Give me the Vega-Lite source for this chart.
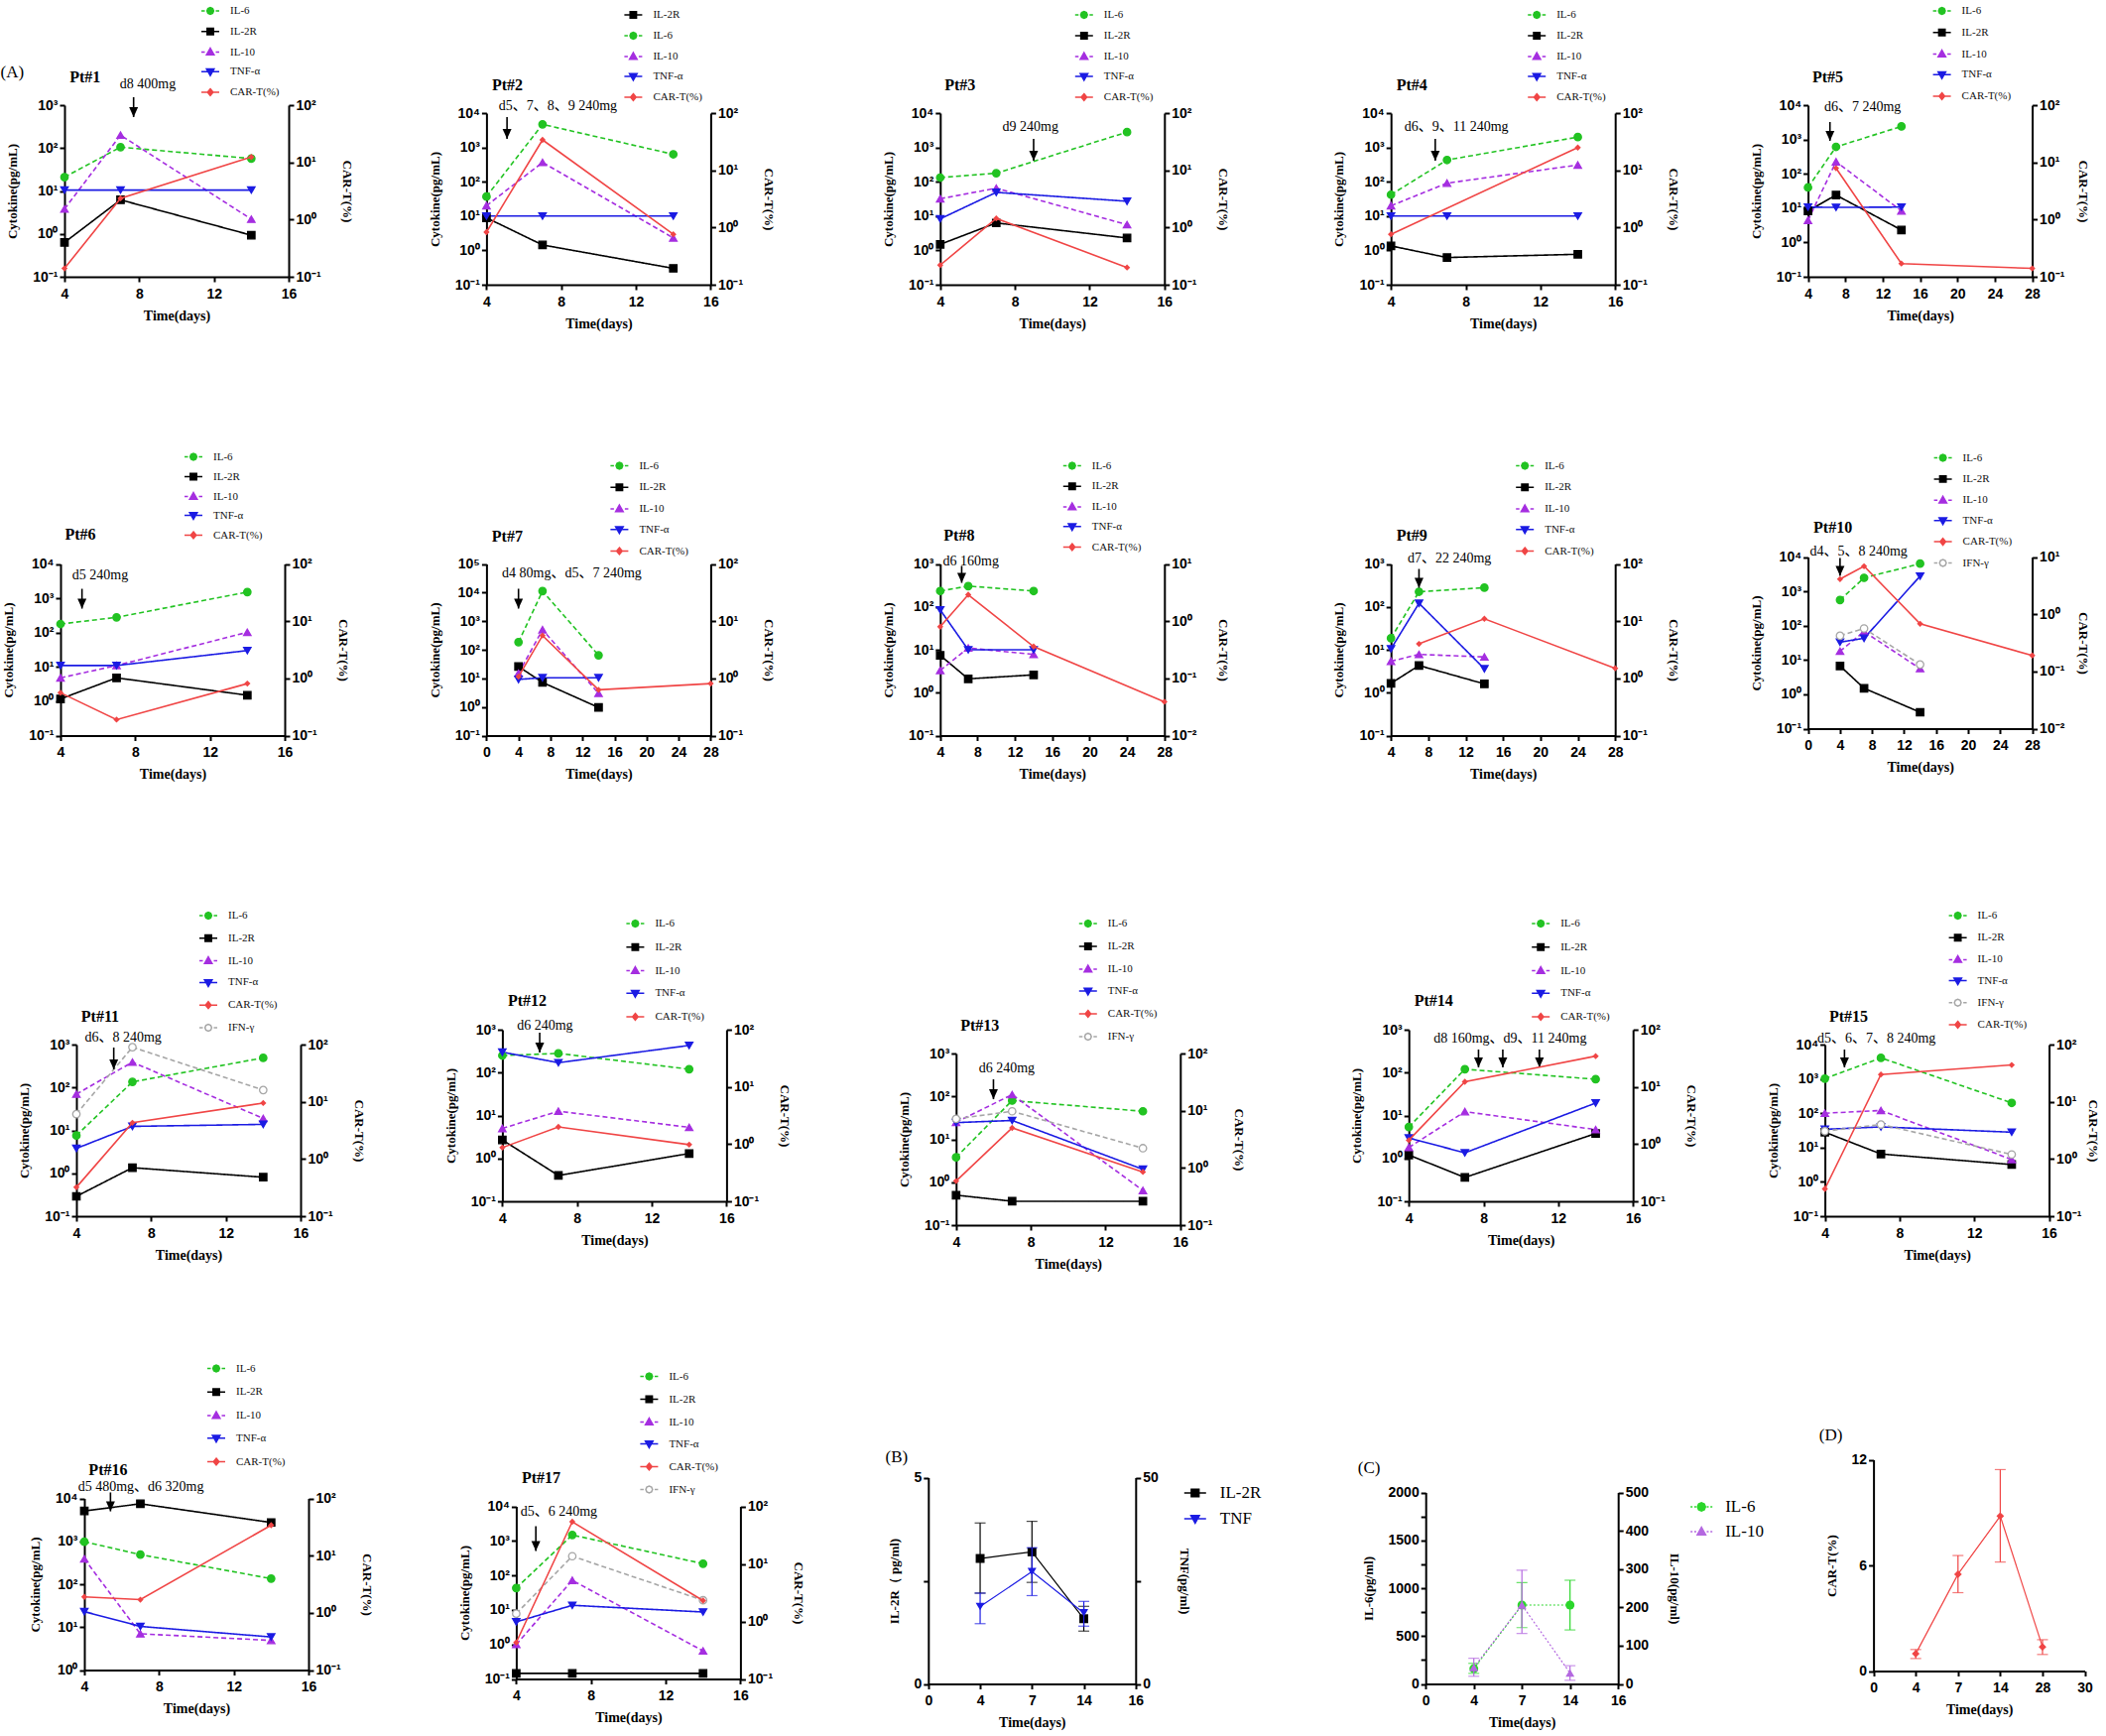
{
"$schema":"https://vega.github.io/schema/vega-lite/v6.json",
"background":"white",
"padding":0,
"columns":5,
"spacing":0,
"bounds":"flush",
"resolve":{"scale":{"color":"independent"},"legend":{"color":"independent"}},
"datasets":{
"pt":[
{"p":"1","s":"IL-6","d":4,"v":21},{"p":"1","s":"IL-6","d":7,"v":105},{"p":"1","s":"IL-6","d":14,"v":57},
{"p":"1","s":"IL-2R","d":4,"v":0.63},{"p":"1","s":"IL-2R","d":7,"v":6.2},{"p":"1","s":"IL-2R","d":14,"v":0.93},
{"p":"1","s":"IL-10","d":4,"v":3.8},{"p":"1","s":"IL-10","d":7,"v":200},{"p":"1","s":"IL-10","d":14,"v":2.2},
{"p":"1","s":"TNF-α","d":4,"v":10.5},{"p":"1","s":"TNF-α","d":7,"v":10.5},{"p":"1","s":"TNF-α","d":14,"v":10.5},
{"p":"1","s":"CAR-T(%)","d":4,"v":0.14},{"p":"1","s":"CAR-T(%)","d":7,"v":2.35},{"p":"1","s":"CAR-T(%)","d":14,"v":12.4},
{"p":"2","s":"IL-6","d":4,"v":37},{"p":"2","s":"IL-6","d":7,"v":4700},{"p":"2","s":"IL-6","d":14,"v":630},
{"p":"2","s":"IL-2R","d":4,"v":8.9},{"p":"2","s":"IL-2R","d":7,"v":1.44},{"p":"2","s":"IL-2R","d":14,"v":0.3},
{"p":"2","s":"IL-10","d":4,"v":20},{"p":"2","s":"IL-10","d":7,"v":365},{"p":"2","s":"IL-10","d":14,"v":2.3},
{"p":"2","s":"TNF-α","d":4,"v":10},{"p":"2","s":"TNF-α","d":7,"v":10},{"p":"2","s":"TNF-α","d":14,"v":10},
{"p":"2","s":"CAR-T(%)","d":4,"v":0.83},{"p":"2","s":"CAR-T(%)","d":7,"v":34},{"p":"2","s":"CAR-T(%)","d":14,"v":0.76},
{"p":"3","s":"IL-6","d":4,"v":132},{"p":"3","s":"IL-6","d":7,"v":177},{"p":"3","s":"IL-6","d":14,"v":2800},
{"p":"3","s":"IL-2R","d":4,"v":1.5},{"p":"3","s":"IL-2R","d":7,"v":6.3},{"p":"3","s":"IL-2R","d":14,"v":2.3},
{"p":"3","s":"IL-10","d":4,"v":32},{"p":"3","s":"IL-10","d":7,"v":65},{"p":"3","s":"IL-10","d":14,"v":5.6},
{"p":"3","s":"TNF-α","d":4,"v":8.3},{"p":"3","s":"TNF-α","d":7,"v":49},{"p":"3","s":"TNF-α","d":14,"v":27},
{"p":"3","s":"CAR-T(%)","d":4,"v":0.22},{"p":"3","s":"CAR-T(%)","d":7,"v":1.44},{"p":"3","s":"CAR-T(%)","d":14,"v":0.2},
{"p":"4","s":"IL-6","d":4,"v":42},{"p":"4","s":"IL-6","d":7,"v":430},{"p":"4","s":"IL-6","d":14,"v":2000},
{"p":"4","s":"IL-2R","d":4,"v":1.35},{"p":"4","s":"IL-2R","d":7,"v":0.62},{"p":"4","s":"IL-2R","d":14,"v":0.77},
{"p":"4","s":"IL-10","d":4,"v":20},{"p":"4","s":"IL-10","d":7,"v":91},{"p":"4","s":"IL-10","d":14,"v":307},
{"p":"4","s":"TNF-α","d":4,"v":10},{"p":"4","s":"TNF-α","d":7,"v":10},{"p":"4","s":"TNF-α","d":14,"v":10},
{"p":"4","s":"CAR-T(%)","d":4,"v":0.76},{"p":"4","s":"CAR-T(%)","d":14,"v":25},
{"p":"5","s":"IL-6","d":4,"v":40},{"p":"5","s":"IL-6","d":7,"v":610},{"p":"5","s":"IL-6","d":14,"v":2400},
{"p":"5","s":"IL-2R","d":4,"v":8.3},{"p":"5","s":"IL-2R","d":7,"v":24},{"p":"5","s":"IL-2R","d":14,"v":2.3},
{"p":"5","s":"IL-10","d":4,"v":4.4},{"p":"5","s":"IL-10","d":7,"v":225},{"p":"5","s":"IL-10","d":14,"v":8.3},
{"p":"5","s":"TNF-α","d":4,"v":10.7},{"p":"5","s":"TNF-α","d":7,"v":10.5},{"p":"5","s":"TNF-α","d":14,"v":10.7},
{"p":"5","s":"CAR-T(%)","d":7,"v":7.9},{"p":"5","s":"CAR-T(%)","d":14,"v":0.17},{"p":"5","s":"CAR-T(%)","d":28,"v":0.14},
{"p":"6","s":"IL-6","d":4,"v":178},{"p":"6","s":"IL-6","d":7,"v":278},{"p":"6","s":"IL-6","d":14,"v":1520},
{"p":"6","s":"IL-2R","d":4,"v":1.17},{"p":"6","s":"IL-2R","d":7,"v":4.8},{"p":"6","s":"IL-2R","d":14,"v":1.5},
{"p":"6","s":"IL-10","d":4,"v":4.8},{"p":"6","s":"IL-10","d":7,"v":11},{"p":"6","s":"IL-10","d":14,"v":102},
{"p":"6","s":"TNF-α","d":4,"v":11},{"p":"6","s":"TNF-α","d":7,"v":11},{"p":"6","s":"TNF-α","d":14,"v":30},
{"p":"6","s":"CAR-T(%)","d":4,"v":0.56},{"p":"6","s":"CAR-T(%)","d":7,"v":0.19},{"p":"6","s":"CAR-T(%)","d":14,"v":0.81},
{"p":"7","s":"IL-6","d":4,"v":185},{"p":"7","s":"IL-6","d":7,"v":11300},{"p":"7","s":"IL-6","d":14,"v":64},
{"p":"7","s":"IL-2R","d":4,"v":26},{"p":"7","s":"IL-2R","d":7,"v":7.2},{"p":"7","s":"IL-2R","d":14,"v":0.96},
{"p":"7","s":"IL-10","d":4,"v":15},{"p":"7","s":"IL-10","d":7,"v":500},{"p":"7","s":"IL-10","d":14,"v":3.0},
{"p":"7","s":"TNF-α","d":4,"v":9.2},{"p":"7","s":"TNF-α","d":7,"v":10.5},{"p":"7","s":"TNF-α","d":14,"v":10.5},
{"p":"7","s":"CAR-T(%)","d":4,"v":1.07},{"p":"7","s":"CAR-T(%)","d":7,"v":5.6},{"p":"7","s":"CAR-T(%)","d":14,"v":0.63},{"p":"7","s":"CAR-T(%)","d":28,"v":0.81},
{"p":"8","s":"IL-6","d":4,"v":234},{"p":"8","s":"IL-6","d":7,"v":305},{"p":"8","s":"IL-6","d":14,"v":234},
{"p":"8","s":"IL-2R","d":4,"v":7.4},{"p":"8","s":"IL-2R","d":7,"v":2.1},{"p":"8","s":"IL-2R","d":14,"v":2.6},
{"p":"8","s":"IL-10","d":4,"v":3.3},{"p":"8","s":"IL-10","d":7,"v":11},{"p":"8","s":"IL-10","d":14,"v":7.8},
{"p":"8","s":"TNF-α","d":4,"v":85},{"p":"8","s":"TNF-α","d":7,"v":10},{"p":"8","s":"TNF-α","d":14,"v":10},
{"p":"8","s":"CAR-T(%)","d":4,"v":0.8},{"p":"8","s":"CAR-T(%)","d":7,"v":2.9},{"p":"8","s":"CAR-T(%)","d":14,"v":0.36},{"p":"8","s":"CAR-T(%)","d":28,"v":0.039},
{"p":"9","s":"IL-6","d":4,"v":18.6},{"p":"9","s":"IL-6","d":7,"v":225},{"p":"9","s":"IL-6","d":14,"v":280},
{"p":"9","s":"IL-2R","d":4,"v":1.65},{"p":"9","s":"IL-2R","d":7,"v":4.3},{"p":"9","s":"IL-2R","d":14,"v":1.6},
{"p":"9","s":"IL-10","d":4,"v":5.4},{"p":"9","s":"IL-10","d":7,"v":7.8},{"p":"9","s":"IL-10","d":14,"v":6.8},
{"p":"9","s":"TNF-α","d":4,"v":10.5},{"p":"9","s":"TNF-α","d":7,"v":121},{"p":"9","s":"TNF-α","d":14,"v":3.6},
{"p":"9","s":"CAR-T(%)","d":7,"v":4.0},{"p":"9","s":"CAR-T(%)","d":14,"v":11},{"p":"9","s":"CAR-T(%)","d":28,"v":1.5},
{"p":"10","s":"IL-6","d":4,"v":560},{"p":"10","s":"IL-6","d":7,"v":2470},{"p":"10","s":"IL-6","d":14,"v":6400},
{"p":"10","s":"IL-2R","d":4,"v":6.7},{"p":"10","s":"IL-2R","d":7,"v":1.5},{"p":"10","s":"IL-2R","d":14,"v":0.3},
{"p":"10","s":"IL-10","d":4,"v":18},{"p":"10","s":"IL-10","d":7,"v":67},{"p":"10","s":"IL-10","d":14,"v":5.6},
{"p":"10","s":"TNF-α","d":4,"v":33},{"p":"10","s":"TNF-α","d":7,"v":43},{"p":"10","s":"TNF-α","d":14,"v":2770},
{"p":"10","s":"IFN-γ","d":4,"v":51},{"p":"10","s":"IFN-γ","d":7,"v":83},{"p":"10","s":"IFN-γ","d":14,"v":7.4},
{"p":"10","s":"CAR-T(%)","d":4,"v":4.1},{"p":"10","s":"CAR-T(%)","d":7,"v":6.9},{"p":"10","s":"CAR-T(%)","d":14,"v":0.68},{"p":"10","s":"CAR-T(%)","d":28,"v":0.19},
{"p":"11","s":"IL-6","d":4,"v":7.6},{"p":"11","s":"IL-6","d":7,"v":135},{"p":"11","s":"IL-6","d":14,"v":490},
{"p":"11","s":"IL-2R","d":4,"v":0.29},{"p":"11","s":"IL-2R","d":7,"v":1.35},{"p":"11","s":"IL-2R","d":14,"v":0.81},
{"p":"11","s":"IL-10","d":4,"v":70},{"p":"11","s":"IL-10","d":7,"v":390},{"p":"11","s":"IL-10","d":14,"v":19},
{"p":"11","s":"TNF-α","d":4,"v":3.8},{"p":"11","s":"TNF-α","d":7,"v":12.4},{"p":"11","s":"TNF-α","d":14,"v":13.8},
{"p":"11","s":"IFN-γ","d":4,"v":24},{"p":"11","s":"IFN-γ","d":7,"v":870},{"p":"11","s":"IFN-γ","d":14,"v":87},
{"p":"11","s":"CAR-T(%)","d":4,"v":0.32},{"p":"11","s":"CAR-T(%)","d":7,"v":4.3},{"p":"11","s":"CAR-T(%)","d":14,"v":9.5},
{"p":"12","s":"IL-6","d":4,"v":250},{"p":"12","s":"IL-6","d":7,"v":280},{"p":"12","s":"IL-6","d":14,"v":120},
{"p":"12","s":"IL-2R","d":4,"v":2.7},{"p":"12","s":"IL-2R","d":7,"v":0.4},{"p":"12","s":"IL-2R","d":14,"v":1.3},
{"p":"12","s":"IL-10","d":4,"v":5.0},{"p":"12","s":"IL-10","d":7,"v":12.6},{"p":"12","s":"IL-10","d":14,"v":5.3},
{"p":"12","s":"TNF-α","d":4,"v":300},{"p":"12","s":"TNF-α","d":7,"v":170},{"p":"12","s":"TNF-α","d":14,"v":430},
{"p":"12","s":"CAR-T(%)","d":4,"v":0.87},{"p":"12","s":"CAR-T(%)","d":7,"v":2.0},{"p":"12","s":"CAR-T(%)","d":14,"v":0.98},
{"p":"13","s":"IL-6","d":4,"v":3.8},{"p":"13","s":"IL-6","d":7,"v":80},{"p":"13","s":"IL-6","d":14,"v":45},
{"p":"13","s":"IL-2R","d":4,"v":0.5},{"p":"13","s":"IL-2R","d":7,"v":0.36},{"p":"13","s":"IL-2R","d":14,"v":0.36},
{"p":"13","s":"IL-10","d":4,"v":25},{"p":"13","s":"IL-10","d":7,"v":110},{"p":"13","s":"IL-10","d":14,"v":0.64},
{"p":"13","s":"TNF-α","d":4,"v":24.5},{"p":"13","s":"TNF-α","d":7,"v":27.5},{"p":"13","s":"TNF-α","d":14,"v":2.0},
{"p":"13","s":"IFN-γ","d":4,"v":30},{"p":"13","s":"IFN-γ","d":7,"v":45},{"p":"13","s":"IFN-γ","d":14,"v":6.2},
{"p":"13","s":"CAR-T(%)","d":4,"v":0.59},{"p":"13","s":"CAR-T(%)","d":7,"v":5.0},{"p":"13","s":"CAR-T(%)","d":14,"v":0.85},
{"p":"14","s":"IL-6","d":4,"v":5.4},{"p":"14","s":"IL-6","d":7,"v":120},{"p":"14","s":"IL-6","d":14,"v":70},
{"p":"14","s":"IL-2R","d":4,"v":1.2},{"p":"14","s":"IL-2R","d":7,"v":0.36},{"p":"14","s":"IL-2R","d":14,"v":3.8},
{"p":"14","s":"IL-10","d":4,"v":1.8},{"p":"14","s":"IL-10","d":7,"v":12.3},{"p":"14","s":"IL-10","d":14,"v":4.7},
{"p":"14","s":"TNF-α","d":4,"v":3.0},{"p":"14","s":"TNF-α","d":7,"v":1.35},{"p":"14","s":"TNF-α","d":14,"v":19.5},
{"p":"14","s":"CAR-T(%)","d":4,"v":1.17},{"p":"14","s":"CAR-T(%)","d":7,"v":12.3},{"p":"14","s":"CAR-T(%)","d":14,"v":34.5},
{"p":"15","s":"IL-6","d":4,"v":1020},{"p":"15","s":"IL-6","d":7,"v":4100},{"p":"15","s":"IL-6","d":14,"v":200},
{"p":"15","s":"IL-2R","d":4,"v":28},{"p":"15","s":"IL-2R","d":7,"v":6.5},{"p":"15","s":"IL-2R","d":14,"v":3.2},
{"p":"15","s":"IL-10","d":4,"v":100},{"p":"15","s":"IL-10","d":7,"v":120},{"p":"15","s":"IL-10","d":14,"v":4.5},
{"p":"15","s":"TNF-α","d":4,"v":34},{"p":"15","s":"TNF-α","d":7,"v":40},{"p":"15","s":"TNF-α","d":14,"v":28},
{"p":"15","s":"IFN-γ","d":4,"v":30},{"p":"15","s":"IFN-γ","d":7,"v":47},{"p":"15","s":"IFN-γ","d":14,"v":6.3},
{"p":"15","s":"CAR-T(%)","d":4,"v":0.3},{"p":"15","s":"CAR-T(%)","d":7,"v":30},{"p":"15","s":"CAR-T(%)","d":14,"v":44},
{"p":"16","s":"IL-6","d":4,"v":980},{"p":"16","s":"IL-6","d":7,"v":490},{"p":"16","s":"IL-6","d":14,"v":135},
{"p":"16","s":"IL-2R","d":4,"v":5100},{"p":"16","s":"IL-2R","d":7,"v":7500},{"p":"16","s":"IL-2R","d":14,"v":2750},
{"p":"16","s":"IL-10","d":4,"v":390},{"p":"16","s":"IL-10","d":7,"v":7.0},{"p":"16","s":"IL-10","d":14,"v":4.9},
{"p":"16","s":"TNF-α","d":4,"v":23},{"p":"16","s":"TNF-α","d":7,"v":10.4},{"p":"16","s":"TNF-α","d":14,"v":5.9},
{"p":"16","s":"CAR-T(%)","d":4,"v":1.9},{"p":"16","s":"CAR-T(%)","d":7,"v":1.7},{"p":"16","s":"CAR-T(%)","d":14,"v":34},
{"p":"17","s":"IL-6","d":4,"v":43},{"p":"17","s":"IL-6","d":7,"v":1480},{"p":"17","s":"IL-6","d":14,"v":218},
{"p":"17","s":"IL-2R","d":4,"v":0.145},{"p":"17","s":"IL-2R","d":7,"v":0.145},{"p":"17","s":"IL-2R","d":14,"v":0.145},
{"p":"17","s":"IL-10","d":4,"v":1.0},{"p":"17","s":"IL-10","d":7,"v":72},{"p":"17","s":"IL-10","d":14,"v":0.65},
{"p":"17","s":"TNF-α","d":4,"v":4.5},{"p":"17","s":"TNF-α","d":7,"v":13.6},{"p":"17","s":"TNF-α","d":14,"v":8.7},
{"p":"17","s":"IFN-γ","d":4,"v":7.8},{"p":"17","s":"IFN-γ","d":7,"v":360},{"p":"17","s":"IFN-γ","d":14,"v":19},
{"p":"17","s":"CAR-T(%)","d":4,"v":0.43},{"p":"17","s":"CAR-T(%)","d":7,"v":54},{"p":"17","s":"CAR-T(%)","d":14,"v":2.3}
],
"note":[
{"p":"1","k":"tag","d":1.2,"v":5800,"t":"(A)"},
{"p":"1","k":"title","d":5.1,"v":4450,"t":"Pt#1"},
{"p":"1","k":"dose","d":8.46,"v":3060,"t":"d8 400mg"},
{"p":"1","k":"arrow","d":7.7,"v":527,"v2":1531},
{"p":"2","k":"title","d":5.12,"v":64600,"t":"Pt#2"},
{"p":"2","k":"dose","d":7.82,"v":15900,"t":"d5、7、8、9 240mg"},
{"p":"2","k":"arrow","d":5.1,"v":1770,"v2":7660},
{"p":"3","k":"title","d":5.06,"v":64600,"t":"Pt#3"},
{"p":"3","k":"dose","d":8.83,"v":3940,"t":"d9 240mg"},
{"p":"3","k":"arrow","d":9.0,"v":410,"v2":1770},
{"p":"4","k":"title","d":5.12,"v":64600,"t":"Pt#4"},
{"p":"4","k":"dose","d":7.5,"v":3940,"t":"d6、9、11 240mg"},
{"p":"4","k":"arrow","d":6.37,"v":410,"v2":1770},
{"p":"5","k":"title","d":6.12,"v":64600,"t":"Pt#5"},
{"p":"5","k":"dose","d":9.84,"v":8760,"t":"d6、7 240mg"},
{"p":"5","k":"arrow","d":6.35,"v":910,"v2":3230},
{"p":"6","k":"title","d":5.06,"v":69000,"t":"Pt#6"},
{"p":"6","k":"dose","d":6.12,"v":4500,"t":"d5 240mg"},
{"p":"6","k":"arrow","d":5.15,"v":500,"v2":1890},
{"p":"7","k":"title","d":2.6,"v":935000,"t":"Pt#7"},
{"p":"7","k":"dose","d":10.66,"v":48700,"t":"d4 80mg、d5、7 240mg"},
{"p":"7","k":"arrow","d":4,"v":2750,"v2":13600},
{"p":"8","k":"title","d":6.02,"v":4660,"t":"Pt#8"},
{"p":"8","k":"dose","d":7.29,"v":1170,"t":"d6 160mg"},
{"p":"8","k":"arrow","d":6.3,"v":363,"v2":900},
{"p":"9","k":"title","d":6.23,"v":4660,"t":"Pt#9"},
{"p":"9","k":"dose","d":10.26,"v":1375,"t":"d7、22 240mg"},
{"p":"9","k":"arrow","d":7,"v":279,"v2":766},
{"p":"10","k":"title","d":3.1,"v":69000,"t":"Pt#10"},
{"p":"10","k":"dose","d":6.32,"v":14900,"t":"d4、5、8 240mg"},
{"p":"10","k":"arrow","d":4,"v":2830,"v2":9360},
{"p":"11","k":"title","d":5.27,"v":4440,"t":"Pt#11"},
{"p":"11","k":"dose","d":6.5,"v":1450,"t":"d6、8 240mg"},
{"p":"11","k":"arrow","d":6,"v":264,"v2":852},
{"p":"12","k":"title","d":5.33,"v":4660,"t":"Pt#12"},
{"p":"12","k":"dose","d":6.28,"v":1240,"t":"d6 240mg"},
{"p":"12","k":"arrow","d":6,"v":294,"v2":852},
{"p":"13","k":"title","d":5.27,"v":4440,"t":"Pt#13"},
{"p":"13","k":"dose","d":6.71,"v":450,"t":"d6 240mg"},
{"p":"13","k":"arrow","d":6,"v":86,"v2":250},
{"p":"14","k":"title","d":5.33,"v":4660,"t":"Pt#14"},
{"p":"14","k":"dose","d":9.42,"v":619,"t":"d8 160mg、d9、11 240mg"},
{"p":"14","k":"arrow","d":7.73,"v":132,"v2":345},
{"p":"14","k":"arrow","d":9.03,"v":132,"v2":345},
{"p":"14","k":"arrow","d":10.99,"v":132,"v2":345},
{"p":"15","k":"title","d":5.27,"v":64600,"t":"Pt#15"},
{"p":"15","k":"dose","d":6.76,"v":14900,"t":"d5、6、7、8 240mg"},
{"p":"15","k":"arrow","d":5.05,"v":2160,"v2":7170},
{"p":"16","k":"title","d":5.27,"v":46800,"t":"Pt#16"},
{"p":"16","k":"dose","d":7.03,"v":18900,"t":"d5 480mg、d6 320mg"},
{"p":"16","k":"arrow","d":5.4,"v":5000,"v2":13800},
{"p":"17","k":"title","d":5.33,"v":68100,"t":"Pt#17"},
{"p":"17","k":"dose","d":6.28,"v":7180,"t":"d5、6 240mg"},
{"p":"17","k":"arrow","d":5.05,"v":509,"v2":2660},
{"p":"B","k":"tag","d":"0","v":5.5,"t":"(B)"},
{"p":"C","k":"tag","d":"0","v":2249,"t":"(C)"},
{"p":"D","k":"tag","d":"0","v":13.4,"t":"(D)"}
],
"sum":[
{"p":"B","s":"IL-2R","d":"4","n":4,"v":3.04,"lo":2.2,"hi":3.9},
{"p":"B","s":"IL-2R","d":"7","n":7,"v":3.2,"lo":2.46,"hi":3.94},
{"p":"B","s":"IL-2R","d":"14","n":14,"v":1.58,"lo":1.28,"hi":1.88},
{"p":"B","s":"TNF","d":"4","n":4,"v":18.75,"lo":14.6,"hi":22},
{"p":"B","s":"TNF","d":"7","n":7,"v":27.2,"lo":21.4,"hi":33},
{"p":"B","s":"TNF","d":"14","n":14,"v":17.2,"lo":14,"hi":20},
{"p":"C","s":"IL-6","d":"4","n":4,"v":160,"lo":110,"hi":215},
{"p":"C","s":"IL-6","d":"7","n":7,"v":824,"lo":588,"hi":1059},
{"p":"C","s":"IL-6","d":"14","n":14,"v":824,"lo":564,"hi":1083},
{"p":"C","s":"IL-10","d":"4","n":4,"v":43,"lo":20,"hi":67},
{"p":"C","s":"IL-10","d":"7","n":7,"v":206,"lo":132,"hi":297},
{"p":"C","s":"IL-10","d":"14","n":14,"v":28.5,"lo":9.5,"hi":47.6},
{"p":"D","s":"CAR-T(%)","d":"4","n":4,"v":0.98,"lo":0.71,"hi":1.22},
{"p":"D","s":"CAR-T(%)","d":"7","n":7,"v":5.5,"lo":4.45,"hi":6.56},
{"p":"D","s":"CAR-T(%)","d":"14","n":14,"v":8.8,"lo":6.19,"hi":11.44},
{"p":"D","s":"CAR-T(%)","d":"28","n":28,"v":1.37,"lo":0.94,"hi":1.78}
]
},
"concat":[
{"width":424.6,"height":437.5,"data":{"name":"pt"},"transform":[{"filter":"datum.p==='1'"}],
"encoding":{"x":{"field":"d","type":"quantitative","title":"Time(days)","scale":{"domain":[4,16],"range":[64,290]},"axis":{"values":[4,8,12,16],"offset":-158.5}}},
"resolve":{"scale":{"y":"independent"}},
"layer":[
{"encoding":{"y":{"field":"v","type":"quantitative","title":"Cytokine(pg/mL)","scale":{"type":"log","domain":[0.1,1000],"range":[279,106]},"axis":{"values":[0.1,1,10,100,1000],"labelExpr":"'10'+['⁻²','⁻¹','⁰','¹','²','³','⁴','⁵'][round(log(datum.value)/LN10)+2]","offset":-64}}},
"layer":[
{"transform":[{"filter":"datum.s!=='CAR-T(%)'"}],"mark":{"type":"line","strokeWidth":1.6},"encoding":{"color":{"field":"s","type":"nominal","scale":{"domain":["IL-6","IL-2R","IL-10","TNF-α","CAR-T(%)"],"range":["#22c322","#000000","#a52ee0","#1b1be3","#f04545"]},"legend":{"orient":"none","legendX":200,"legendY":0,"title":null,"padding":0,"rowPadding":2.75,"symbolSize":400,"labelOffset":9,"labelFontSize":11,"encode":{"symbols":{"update":{"shape":{"signal":"datum.value==='IL-2R'?'M-0.9,0H0.9M-0.32,-0.32H0.32V0.32H-0.32Z':datum.value==='IL-10'?'M-0.9,0H-0.55M0.55,0H0.9M0,-0.4L0.38,0.27H-0.38Z':datum.value==='TNF-α'?'M-0.9,0H0.9M0,0.4L0.38,-0.27H-0.38Z':datum.value==='CAR-T(%)'?'M-0.9,0H0.9M0,-0.34L0.28,0L0,0.34L-0.28,0Z':'M-0.9,0H-0.55M0.55,0H0.9M0.34,0L0.24,0.24L0,0.34L-0.24,0.24L-0.34,0L-0.24,-0.24L0,-0.34L0.24,-0.24Z'"},"fill":{"signal":"datum.value==='IL-6'?'#22c322':datum.value==='IL-2R'?'#000000':datum.value==='IL-10'?'#a52ee0':datum.value==='TNF-α'?'#1b1be3':datum.value==='CAR-T(%)'?'#f04545':'#ffffff'"},"stroke":{"signal":"datum.value==='IL-6'?'#22c322':datum.value==='IL-2R'?'#000000':datum.value==='IL-10'?'#a52ee0':datum.value==='TNF-α'?'#1b1be3':datum.value==='CAR-T(%)'?'#f04545':'#a6a6a6'"},"strokeWidth":{"value":1.5},"size":{"value":400},"opacity":{"value":1}},"shape":{"value":{"expr":"datum.value==='IL-2R'?'M-0.9,0H0.9M-0.32,-0.32H0.32V0.32H-0.32Z':datum.value==='IL-10'?'M-0.9,0H-0.55M0.55,0H0.9M0,-0.4L0.38,0.27H-0.38Z':datum.value==='TNF-α'?'M-0.9,0H0.9M0,0.4L0.38,-0.27H-0.38Z':datum.value==='CAR-T(%)'?'M-0.9,0H0.9M0,-0.34L0.28,0L0,0.34L-0.28,0Z':'M-0.9,0H-0.55M0.55,0H0.9M0.34,0L0.24,0.24L0,0.34L-0.24,0.24L-0.34,0L-0.24,-0.24L0,-0.34L0.24,-0.24Z'"}},"fill":{"value":{"expr":"datum.value==='IL-6'?'#22c322':datum.value==='IL-2R'?'#000000':datum.value==='IL-10'?'#a52ee0':datum.value==='TNF-α'?'#1b1be3':datum.value==='CAR-T(%)'?'#f04545':'#ffffff'"}},"stroke":{"value":{"expr":"datum.value==='IL-6'?'#22c322':datum.value==='IL-2R'?'#000000':datum.value==='IL-10'?'#a52ee0':datum.value==='TNF-α'?'#1b1be3':datum.value==='CAR-T(%)'?'#f04545':'#a6a6a6'"}},"strokeWidth":{"value":1.5},"size":{"value":400},"opacity":{"value":1}}}}},"strokeDash":{"field":"s","type":"nominal","scale":{"domain":["IL-6","IL-2R","IL-10","TNF-α","CAR-T(%)","IFN-γ"],"range":[[5,3],[1,0],[5,3],[1,0],[1,0],[5,3]]},"legend":null}}},
{"transform":[{"filter":"datum.s!=='CAR-T(%)'"}],"mark":{"type":"point","filled":true,"size":55,"opacity":1,"strokeWidth":1.3},"encoding":{"shape":{"field":"s","type":"nominal","scale":{"domain":["IL-6","IL-2R","IL-10","TNF-α","CAR-T(%)","IFN-γ"],"range":["circle","square","triangle-up","triangle-down","diamond","circle"]},"legend":null},"fill":{"field":"s","type":"nominal","scale":{"domain":["IL-6","IL-2R","IL-10","TNF-α","CAR-T(%)","IFN-γ"],"range":["#22c322","#000000","#a52ee0","#1b1be3","#f04545","#ffffff"]},"legend":null},"stroke":{"field":"s","type":"nominal","scale":{"domain":["IL-6","IL-2R","IL-10","TNF-α","CAR-T(%)","IFN-γ"],"range":["#22c322","#000000","#a52ee0","#1b1be3","#f04545","#a6a6a6"]},"legend":null}}},
{"data":{"name":"note"},"transform":[{"filter":"datum.p==='1'&&datum.k==='tag'"}],"mark":{"type":"text","font":"Liberation Serif","fontSize":17,"baseline":"middle"},"encoding":{"text":{"field":"t","type":"nominal"}}},
{"data":{"name":"note"},"transform":[{"filter":"datum.p==='1'&&datum.k==='title'"}],"mark":{"type":"text","font":"Liberation Serif","fontWeight":"bold","fontSize":16,"baseline":"middle"},"encoding":{"text":{"field":"t","type":"nominal"}}},
{"data":{"name":"note"},"transform":[{"filter":"datum.p==='1'&&datum.k==='dose'"}],"mark":{"type":"text","font":"Liberation Serif, Noto Sans CJK SC","fontSize":14,"baseline":"middle"},"encoding":{"text":{"field":"t","type":"nominal"}}},
{"data":{"name":"note"},"transform":[{"filter":"datum.p==='1'&&datum.k==='arrow'"}],"mark":{"type":"rule","strokeWidth":1.6,"color":"#000"},"encoding":{"y2":{"field":"v2"}}},
{"data":{"name":"note"},"transform":[{"filter":"datum.p==='1'&&datum.k==='arrow'"}],"mark":{"type":"point","shape":"M-0.9,-2L0.9,-2L0,0Z","filled":true,"color":"#000","size":100,"opacity":1},"encoding":{}}
]},
{"transform":[{"filter":"datum.s==='CAR-T(%)'"}],"encoding":{"y":{"field":"v","type":"quantitative","title":"CAR-T(%)","scale":{"type":"log","domain":[0.1,100],"range":[279,106]},"axis":{"orient":"right","values":[0.1,1,10,100],"labelExpr":"'10'+['⁻²','⁻¹','⁰','¹','²','³','⁴','⁵'][round(log(datum.value)/LN10)+2]","offset":-134.6}}},
"layer":[{"mark":{"type":"line","strokeWidth":1.6,"color":"#f04545"},"encoding":{}},{"mark":{"type":"point","shape":"diamond","filled":true,"size":40,"opacity":1,"color":"#f04545"},"encoding":{}}]}
]},
{"width":424.6,"height":437.5,"data":{"name":"pt"},"transform":[{"filter":"datum.p==='2'"}],
"encoding":{"x":{"field":"d","type":"quantitative","title":"Time(days)","scale":{"domain":[4,16],"range":[64.4,290.4]},"axis":{"values":[4,8,12,16],"offset":-150.5}}},
"resolve":{"scale":{"y":"independent"}},
"layer":[
{"encoding":{"y":{"field":"v","type":"quantitative","title":"Cytokine(pg/mL)","scale":{"type":"log","domain":[0.1,10000],"range":[287,114]},"axis":{"values":[0.1,1,10,100,1000,10000],"labelExpr":"'10'+['⁻²','⁻¹','⁰','¹','²','³','⁴','⁵'][round(log(datum.value)/LN10)+2]","offset":-64.4}}},
"layer":[
{"transform":[{"filter":"datum.s!=='CAR-T(%)'"}],"mark":{"type":"line","strokeWidth":1.6},"encoding":{"color":{"field":"s","type":"nominal","scale":{"domain":["IL-2R","IL-6","IL-10","TNF-α","CAR-T(%)"],"range":["#000000","#22c322","#a52ee0","#1b1be3","#f04545"]},"legend":{"orient":"none","legendX":201.4,"legendY":4,"title":null,"padding":0,"rowPadding":3,"symbolSize":400,"labelOffset":9,"labelFontSize":11,"encode":{"symbols":{"update":{"shape":{"signal":"datum.value==='IL-2R'?'M-0.9,0H0.9M-0.32,-0.32H0.32V0.32H-0.32Z':datum.value==='IL-10'?'M-0.9,0H-0.55M0.55,0H0.9M0,-0.4L0.38,0.27H-0.38Z':datum.value==='TNF-α'?'M-0.9,0H0.9M0,0.4L0.38,-0.27H-0.38Z':datum.value==='CAR-T(%)'?'M-0.9,0H0.9M0,-0.34L0.28,0L0,0.34L-0.28,0Z':'M-0.9,0H-0.55M0.55,0H0.9M0.34,0L0.24,0.24L0,0.34L-0.24,0.24L-0.34,0L-0.24,-0.24L0,-0.34L0.24,-0.24Z'"},"fill":{"signal":"datum.value==='IL-6'?'#22c322':datum.value==='IL-2R'?'#000000':datum.value==='IL-10'?'#a52ee0':datum.value==='TNF-α'?'#1b1be3':datum.value==='CAR-T(%)'?'#f04545':'#ffffff'"},"stroke":{"signal":"datum.value==='IL-6'?'#22c322':datum.value==='IL-2R'?'#000000':datum.value==='IL-10'?'#a52ee0':datum.value==='TNF-α'?'#1b1be3':datum.value==='CAR-T(%)'?'#f04545':'#a6a6a6'"},"strokeWidth":{"value":1.5},"size":{"value":400},"opacity":{"value":1}},"shape":{"value":{"expr":"datum.value==='IL-2R'?'M-0.9,0H0.9M-0.32,-0.32H0.32V0.32H-0.32Z':datum.value==='IL-10'?'M-0.9,0H-0.55M0.55,0H0.9M0,-0.4L0.38,0.27H-0.38Z':datum.value==='TNF-α'?'M-0.9,0H0.9M0,0.4L0.38,-0.27H-0.38Z':datum.value==='CAR-T(%)'?'M-0.9,0H0.9M0,-0.34L0.28,0L0,0.34L-0.28,0Z':'M-0.9,0H-0.55M0.55,0H0.9M0.34,0L0.24,0.24L0,0.34L-0.24,0.24L-0.34,0L-0.24,-0.24L0,-0.34L0.24,-0.24Z'"}},"fill":{"value":{"expr":"datum.value==='IL-6'?'#22c322':datum.value==='IL-2R'?'#000000':datum.value==='IL-10'?'#a52ee0':datum.value==='TNF-α'?'#1b1be3':datum.value==='CAR-T(%)'?'#f04545':'#ffffff'"}},"stroke":{"value":{"expr":"datum.value==='IL-6'?'#22c322':datum.value==='IL-2R'?'#000000':datum.value==='IL-10'?'#a52ee0':datum.value==='TNF-α'?'#1b1be3':datum.value==='CAR-T(%)'?'#f04545':'#a6a6a6'"}},"strokeWidth":{"value":1.5},"size":{"value":400},"opacity":{"value":1}}}}},"strokeDash":{"field":"s","type":"nominal","scale":{"domain":["IL-6","IL-2R","IL-10","TNF-α","CAR-T(%)","IFN-γ"],"range":[[5,3],[1,0],[5,3],[1,0],[1,0],[5,3]]},"legend":null}}},
{"transform":[{"filter":"datum.s!=='CAR-T(%)'"}],"mark":{"type":"point","filled":true,"size":55,"opacity":1,"strokeWidth":1.3},"encoding":{"shape":{"field":"s","type":"nominal","scale":{"domain":["IL-6","IL-2R","IL-10","TNF-α","CAR-T(%)","IFN-γ"],"range":["circle","square","triangle-up","triangle-down","diamond","circle"]},"legend":null},"fill":{"field":"s","type":"nominal","scale":{"domain":["IL-6","IL-2R","IL-10","TNF-α","CAR-T(%)","IFN-γ"],"range":["#22c322","#000000","#a52ee0","#1b1be3","#f04545","#ffffff"]},"legend":null},"stroke":{"field":"s","type":"nominal","scale":{"domain":["IL-6","IL-2R","IL-10","TNF-α","CAR-T(%)","IFN-γ"],"range":["#22c322","#000000","#a52ee0","#1b1be3","#f04545","#a6a6a6"]},"legend":null}}},
{"data":{"name":"note"},"transform":[{"filter":"datum.p==='2'&&datum.k==='title'"}],"mark":{"type":"text","font":"Liberation Serif","fontWeight":"bold","fontSize":16,"baseline":"middle"},"encoding":{"text":{"field":"t","type":"nominal"}}},
{"data":{"name":"note"},"transform":[{"filter":"datum.p==='2'&&datum.k==='dose'"}],"mark":{"type":"text","font":"Liberation Serif, Noto Sans CJK SC","fontSize":14,"baseline":"middle"},"encoding":{"text":{"field":"t","type":"nominal"}}},
{"data":{"name":"note"},"transform":[{"filter":"datum.p==='2'&&datum.k==='arrow'"}],"mark":{"type":"rule","strokeWidth":1.6,"color":"#000"},"encoding":{"y2":{"field":"v2"}}},
{"data":{"name":"note"},"transform":[{"filter":"datum.p==='2'&&datum.k==='arrow'"}],"mark":{"type":"point","shape":"M-0.9,-2L0.9,-2L0,0Z","filled":true,"color":"#000","size":100,"opacity":1},"encoding":{}}
]},
{"transform":[{"filter":"datum.s==='CAR-T(%)'"}],"encoding":{"y":{"field":"v","type":"quantitative","title":"CAR-T(%)","scale":{"type":"log","domain":[0.1,100],"range":[287,114]},"axis":{"orient":"right","values":[0.1,1,10,100],"labelExpr":"'10'+['⁻²','⁻¹','⁰','¹','²','³','⁴','⁵'][round(log(datum.value)/LN10)+2]","offset":-134.2}}},
"layer":[{"mark":{"type":"line","strokeWidth":1.6,"color":"#f04545"},"encoding":{}},{"mark":{"type":"point","shape":"diamond","filled":true,"size":40,"opacity":1,"color":"#f04545"},"encoding":{}}]}
]},
{"width":424.6,"height":437.5,"data":{"name":"pt"},"transform":[{"filter":"datum.p==='3'"}],
"encoding":{"x":{"field":"d","type":"quantitative","title":"Time(days)","scale":{"domain":[4,16],"range":[96.8,322.8]},"axis":{"values":[4,8,12,16],"offset":-150.5}}},
"resolve":{"scale":{"y":"independent"}},
"layer":[
{"encoding":{"y":{"field":"v","type":"quantitative","title":"Cytokine(pg/mL)","scale":{"type":"log","domain":[0.1,10000],"range":[287,114]},"axis":{"values":[0.1,1,10,100,1000,10000],"labelExpr":"'10'+['⁻²','⁻¹','⁰','¹','²','³','⁴','⁵'][round(log(datum.value)/LN10)+2]","offset":-96.8}}},
"layer":[
{"transform":[{"filter":"datum.s!=='CAR-T(%)'"}],"mark":{"type":"line","strokeWidth":1.6},"encoding":{"color":{"field":"s","type":"nominal","scale":{"domain":["IL-6","IL-2R","IL-10","TNF-α","CAR-T(%)"],"range":["#22c322","#000000","#a52ee0","#1b1be3","#f04545"]},"legend":{"orient":"none","legendX":230.8,"legendY":4,"title":null,"padding":0,"rowPadding":3,"symbolSize":400,"labelOffset":9,"labelFontSize":11,"encode":{"symbols":{"update":{"shape":{"signal":"datum.value==='IL-2R'?'M-0.9,0H0.9M-0.32,-0.32H0.32V0.32H-0.32Z':datum.value==='IL-10'?'M-0.9,0H-0.55M0.55,0H0.9M0,-0.4L0.38,0.27H-0.38Z':datum.value==='TNF-α'?'M-0.9,0H0.9M0,0.4L0.38,-0.27H-0.38Z':datum.value==='CAR-T(%)'?'M-0.9,0H0.9M0,-0.34L0.28,0L0,0.34L-0.28,0Z':'M-0.9,0H-0.55M0.55,0H0.9M0.34,0L0.24,0.24L0,0.34L-0.24,0.24L-0.34,0L-0.24,-0.24L0,-0.34L0.24,-0.24Z'"},"fill":{"signal":"datum.value==='IL-6'?'#22c322':datum.value==='IL-2R'?'#000000':datum.value==='IL-10'?'#a52ee0':datum.value==='TNF-α'?'#1b1be3':datum.value==='CAR-T(%)'?'#f04545':'#ffffff'"},"stroke":{"signal":"datum.value==='IL-6'?'#22c322':datum.value==='IL-2R'?'#000000':datum.value==='IL-10'?'#a52ee0':datum.value==='TNF-α'?'#1b1be3':datum.value==='CAR-T(%)'?'#f04545':'#a6a6a6'"},"strokeWidth":{"value":1.5},"size":{"value":400},"opacity":{"value":1}},"shape":{"value":{"expr":"datum.value==='IL-2R'?'M-0.9,0H0.9M-0.32,-0.32H0.32V0.32H-0.32Z':datum.value==='IL-10'?'M-0.9,0H-0.55M0.55,0H0.9M0,-0.4L0.38,0.27H-0.38Z':datum.value==='TNF-α'?'M-0.9,0H0.9M0,0.4L0.38,-0.27H-0.38Z':datum.value==='CAR-T(%)'?'M-0.9,0H0.9M0,-0.34L0.28,0L0,0.34L-0.28,0Z':'M-0.9,0H-0.55M0.55,0H0.9M0.34,0L0.24,0.24L0,0.34L-0.24,0.24L-0.34,0L-0.24,-0.24L0,-0.34L0.24,-0.24Z'"}},"fill":{"value":{"expr":"datum.value==='IL-6'?'#22c322':datum.value==='IL-2R'?'#000000':datum.value==='IL-10'?'#a52ee0':datum.value==='TNF-α'?'#1b1be3':datum.value==='CAR-T(%)'?'#f04545':'#ffffff'"}},"stroke":{"value":{"expr":"datum.value==='IL-6'?'#22c322':datum.value==='IL-2R'?'#000000':datum.value==='IL-10'?'#a52ee0':datum.value==='TNF-α'?'#1b1be3':datum.value==='CAR-T(%)'?'#f04545':'#a6a6a6'"}},"strokeWidth":{"value":1.5},"size":{"value":400},"opacity":{"value":1}}}}},"strokeDash":{"field":"s","type":"nominal","scale":{"domain":["IL-6","IL-2R","IL-10","TNF-α","CAR-T(%)","IFN-γ"],"range":[[5,3],[1,0],[5,3],[1,0],[1,0],[5,3]]},"legend":null}}},
{"transform":[{"filter":"datum.s!=='CAR-T(%)'"}],"mark":{"type":"point","filled":true,"size":55,"opacity":1,"strokeWidth":1.3},"encoding":{"shape":{"field":"s","type":"nominal","scale":{"domain":["IL-6","IL-2R","IL-10","TNF-α","CAR-T(%)","IFN-γ"],"range":["circle","square","triangle-up","triangle-down","diamond","circle"]},"legend":null},"fill":{"field":"s","type":"nominal","scale":{"domain":["IL-6","IL-2R","IL-10","TNF-α","CAR-T(%)","IFN-γ"],"range":["#22c322","#000000","#a52ee0","#1b1be3","#f04545","#ffffff"]},"legend":null},"stroke":{"field":"s","type":"nominal","scale":{"domain":["IL-6","IL-2R","IL-10","TNF-α","CAR-T(%)","IFN-γ"],"range":["#22c322","#000000","#a52ee0","#1b1be3","#f04545","#a6a6a6"]},"legend":null}}},
{"data":{"name":"note"},"transform":[{"filter":"datum.p==='3'&&datum.k==='title'"}],"mark":{"type":"text","font":"Liberation Serif","fontWeight":"bold","fontSize":16,"baseline":"middle"},"encoding":{"text":{"field":"t","type":"nominal"}}},
{"data":{"name":"note"},"transform":[{"filter":"datum.p==='3'&&datum.k==='dose'"}],"mark":{"type":"text","font":"Liberation Serif, Noto Sans CJK SC","fontSize":14,"baseline":"middle"},"encoding":{"text":{"field":"t","type":"nominal"}}},
{"data":{"name":"note"},"transform":[{"filter":"datum.p==='3'&&datum.k==='arrow'"}],"mark":{"type":"rule","strokeWidth":1.6,"color":"#000"},"encoding":{"y2":{"field":"v2"}}},
{"data":{"name":"note"},"transform":[{"filter":"datum.p==='3'&&datum.k==='arrow'"}],"mark":{"type":"point","shape":"M-0.9,-2L0.9,-2L0,0Z","filled":true,"color":"#000","size":100,"opacity":1},"encoding":{}}
]},
{"transform":[{"filter":"datum.s==='CAR-T(%)'"}],"encoding":{"y":{"field":"v","type":"quantitative","title":"CAR-T(%)","scale":{"type":"log","domain":[0.1,100],"range":[287,114]},"axis":{"orient":"right","values":[0.1,1,10,100],"labelExpr":"'10'+['⁻²','⁻¹','⁰','¹','²','³','⁴','⁵'][round(log(datum.value)/LN10)+2]","offset":-101.8}}},
"layer":[{"mark":{"type":"line","strokeWidth":1.6,"color":"#f04545"},"encoding":{}},{"mark":{"type":"point","shape":"diamond","filled":true,"size":40,"opacity":1,"color":"#f04545"},"encoding":{}}]}
]},
{"width":424.6,"height":437.5,"data":{"name":"pt"},"transform":[{"filter":"datum.p==='4'"}],
"encoding":{"x":{"field":"d","type":"quantitative","title":"Time(days)","scale":{"domain":[4,16],"range":[126.2,352.2]},"axis":{"values":[4,8,12,16],"offset":-150.5}}},
"resolve":{"scale":{"y":"independent"}},
"layer":[
{"encoding":{"y":{"field":"v","type":"quantitative","title":"Cytokine(pg/mL)","scale":{"type":"log","domain":[0.1,10000],"range":[287,114]},"axis":{"values":[0.1,1,10,100,1000,10000],"labelExpr":"'10'+['⁻²','⁻¹','⁰','¹','²','³','⁴','⁵'][round(log(datum.value)/LN10)+2]","offset":-126.2}}},
"layer":[
{"transform":[{"filter":"datum.s!=='CAR-T(%)'"}],"mark":{"type":"line","strokeWidth":1.6},"encoding":{"color":{"field":"s","type":"nominal","scale":{"domain":["IL-6","IL-2R","IL-10","TNF-α","CAR-T(%)"],"range":["#22c322","#000000","#a52ee0","#1b1be3","#f04545"]},"legend":{"orient":"none","legendX":262.2,"legendY":4,"title":null,"padding":0,"rowPadding":3,"symbolSize":400,"labelOffset":9,"labelFontSize":11,"encode":{"symbols":{"update":{"shape":{"signal":"datum.value==='IL-2R'?'M-0.9,0H0.9M-0.32,-0.32H0.32V0.32H-0.32Z':datum.value==='IL-10'?'M-0.9,0H-0.55M0.55,0H0.9M0,-0.4L0.38,0.27H-0.38Z':datum.value==='TNF-α'?'M-0.9,0H0.9M0,0.4L0.38,-0.27H-0.38Z':datum.value==='CAR-T(%)'?'M-0.9,0H0.9M0,-0.34L0.28,0L0,0.34L-0.28,0Z':'M-0.9,0H-0.55M0.55,0H0.9M0.34,0L0.24,0.24L0,0.34L-0.24,0.24L-0.34,0L-0.24,-0.24L0,-0.34L0.24,-0.24Z'"},"fill":{"signal":"datum.value==='IL-6'?'#22c322':datum.value==='IL-2R'?'#000000':datum.value==='IL-10'?'#a52ee0':datum.value==='TNF-α'?'#1b1be3':datum.value==='CAR-T(%)'?'#f04545':'#ffffff'"},"stroke":{"signal":"datum.value==='IL-6'?'#22c322':datum.value==='IL-2R'?'#000000':datum.value==='IL-10'?'#a52ee0':datum.value==='TNF-α'?'#1b1be3':datum.value==='CAR-T(%)'?'#f04545':'#a6a6a6'"},"strokeWidth":{"value":1.5},"size":{"value":400},"opacity":{"value":1}},"shape":{"value":{"expr":"datum.value==='IL-2R'?'M-0.9,0H0.9M-0.32,-0.32H0.32V0.32H-0.32Z':datum.value==='IL-10'?'M-0.9,0H-0.55M0.55,0H0.9M0,-0.4L0.38,0.27H-0.38Z':datum.value==='TNF-α'?'M-0.9,0H0.9M0,0.4L0.38,-0.27H-0.38Z':datum.value==='CAR-T(%)'?'M-0.9,0H0.9M0,-0.34L0.28,0L0,0.34L-0.28,0Z':'M-0.9,0H-0.55M0.55,0H0.9M0.34,0L0.24,0.24L0,0.34L-0.24,0.24L-0.34,0L-0.24,-0.24L0,-0.34L0.24,-0.24Z'"}},"fill":{"value":{"expr":"datum.value==='IL-6'?'#22c322':datum.value==='IL-2R'?'#000000':datum.value==='IL-10'?'#a52ee0':datum.value==='TNF-α'?'#1b1be3':datum.value==='CAR-T(%)'?'#f04545':'#ffffff'"}},"stroke":{"value":{"expr":"datum.value==='IL-6'?'#22c322':datum.value==='IL-2R'?'#000000':datum.value==='IL-10'?'#a52ee0':datum.value==='TNF-α'?'#1b1be3':datum.value==='CAR-T(%)'?'#f04545':'#a6a6a6'"}},"strokeWidth":{"value":1.5},"size":{"value":400},"opacity":{"value":1}}}}},"strokeDash":{"field":"s","type":"nominal","scale":{"domain":["IL-6","IL-2R","IL-10","TNF-α","CAR-T(%)","IFN-γ"],"range":[[5,3],[1,0],[5,3],[1,0],[1,0],[5,3]]},"legend":null}}},
{"transform":[{"filter":"datum.s!=='CAR-T(%)'"}],"mark":{"type":"point","filled":true,"size":55,"opacity":1,"strokeWidth":1.3},"encoding":{"shape":{"field":"s","type":"nominal","scale":{"domain":["IL-6","IL-2R","IL-10","TNF-α","CAR-T(%)","IFN-γ"],"range":["circle","square","triangle-up","triangle-down","diamond","circle"]},"legend":null},"fill":{"field":"s","type":"nominal","scale":{"domain":["IL-6","IL-2R","IL-10","TNF-α","CAR-T(%)","IFN-γ"],"range":["#22c322","#000000","#a52ee0","#1b1be3","#f04545","#ffffff"]},"legend":null},"stroke":{"field":"s","type":"nominal","scale":{"domain":["IL-6","IL-2R","IL-10","TNF-α","CAR-T(%)","IFN-γ"],"range":["#22c322","#000000","#a52ee0","#1b1be3","#f04545","#a6a6a6"]},"legend":null}}},
{"data":{"name":"note"},"transform":[{"filter":"datum.p==='4'&&datum.k==='title'"}],"mark":{"type":"text","font":"Liberation Serif","fontWeight":"bold","fontSize":16,"baseline":"middle"},"encoding":{"text":{"field":"t","type":"nominal"}}},
{"data":{"name":"note"},"transform":[{"filter":"datum.p==='4'&&datum.k==='dose'"}],"mark":{"type":"text","font":"Liberation Serif, Noto Sans CJK SC","fontSize":14,"baseline":"middle"},"encoding":{"text":{"field":"t","type":"nominal"}}},
{"data":{"name":"note"},"transform":[{"filter":"datum.p==='4'&&datum.k==='arrow'"}],"mark":{"type":"rule","strokeWidth":1.6,"color":"#000"},"encoding":{"y2":{"field":"v2"}}},
{"data":{"name":"note"},"transform":[{"filter":"datum.p==='4'&&datum.k==='arrow'"}],"mark":{"type":"point","shape":"M-0.9,-2L0.9,-2L0,0Z","filled":true,"color":"#000","size":100,"opacity":1},"encoding":{}}
]},
{"transform":[{"filter":"datum.s==='CAR-T(%)'"}],"encoding":{"y":{"field":"v","type":"quantitative","title":"CAR-T(%)","scale":{"type":"log","domain":[0.1,100],"range":[287,114]},"axis":{"orient":"right","values":[0.1,1,10,100],"labelExpr":"'10'+['⁻²','⁻¹','⁰','¹','²','³','⁴','⁵'][round(log(datum.value)/LN10)+2]","offset":-72.4}}},
"layer":[{"mark":{"type":"line","strokeWidth":1.6,"color":"#f04545"},"encoding":{}},{"mark":{"type":"point","shape":"diamond","filled":true,"size":40,"opacity":1,"color":"#f04545"},"encoding":{}}]}
]},
{"width":424.6,"height":437.5,"data":{"name":"pt"},"transform":[{"filter":"datum.p==='5'"}],
"encoding":{"x":{"field":"d","type":"quantitative","title":"Time(days)","scale":{"domain":[4,28],"range":[121.6,347.6]},"axis":{"values":[4,8,12,16,20,24,28],"offset":-158.5}}},
"resolve":{"scale":{"y":"independent"}},
"layer":[
{"encoding":{"y":{"field":"v","type":"quantitative","title":"Cytokine(pg/mL)","scale":{"type":"log","domain":[0.1,10000],"range":[279,106]},"axis":{"values":[0.1,1,10,100,1000,10000],"labelExpr":"'10'+['⁻²','⁻¹','⁰','¹','²','³','⁴','⁵'][round(log(datum.value)/LN10)+2]","offset":-121.6}}},
"layer":[
{"transform":[{"filter":"datum.s!=='CAR-T(%)'"}],"mark":{"type":"line","strokeWidth":1.6},"encoding":{"color":{"field":"s","type":"nominal","scale":{"domain":["IL-6","IL-2R","IL-10","TNF-α","CAR-T(%)"],"range":["#22c322","#000000","#a52ee0","#1b1be3","#f04545"]},"legend":{"orient":"none","legendX":245.6,"legendY":0,"title":null,"padding":0,"rowPadding":3.75,"symbolSize":400,"labelOffset":9,"labelFontSize":11,"encode":{"symbols":{"update":{"shape":{"signal":"datum.value==='IL-2R'?'M-0.9,0H0.9M-0.32,-0.32H0.32V0.32H-0.32Z':datum.value==='IL-10'?'M-0.9,0H-0.55M0.55,0H0.9M0,-0.4L0.38,0.27H-0.38Z':datum.value==='TNF-α'?'M-0.9,0H0.9M0,0.4L0.38,-0.27H-0.38Z':datum.value==='CAR-T(%)'?'M-0.9,0H0.9M0,-0.34L0.28,0L0,0.34L-0.28,0Z':'M-0.9,0H-0.55M0.55,0H0.9M0.34,0L0.24,0.24L0,0.34L-0.24,0.24L-0.34,0L-0.24,-0.24L0,-0.34L0.24,-0.24Z'"},"fill":{"signal":"datum.value==='IL-6'?'#22c322':datum.value==='IL-2R'?'#000000':datum.value==='IL-10'?'#a52ee0':datum.value==='TNF-α'?'#1b1be3':datum.value==='CAR-T(%)'?'#f04545':'#ffffff'"},"stroke":{"signal":"datum.value==='IL-6'?'#22c322':datum.value==='IL-2R'?'#000000':datum.value==='IL-10'?'#a52ee0':datum.value==='TNF-α'?'#1b1be3':datum.value==='CAR-T(%)'?'#f04545':'#a6a6a6'"},"strokeWidth":{"value":1.5},"size":{"value":400},"opacity":{"value":1}},"shape":{"value":{"expr":"datum.value==='IL-2R'?'M-0.9,0H0.9M-0.32,-0.32H0.32V0.32H-0.32Z':datum.value==='IL-10'?'M-0.9,0H-0.55M0.55,0H0.9M0,-0.4L0.38,0.27H-0.38Z':datum.value==='TNF-α'?'M-0.9,0H0.9M0,0.4L0.38,-0.27H-0.38Z':datum.value==='CAR-T(%)'?'M-0.9,0H0.9M0,-0.34L0.28,0L0,0.34L-0.28,0Z':'M-0.9,0H-0.55M0.55,0H0.9M0.34,0L0.24,0.24L0,0.34L-0.24,0.24L-0.34,0L-0.24,-0.24L0,-0.34L0.24,-0.24Z'"}},"fill":{"value":{"expr":"datum.value==='IL-6'?'#22c322':datum.value==='IL-2R'?'#000000':datum.value==='IL-10'?'#a52ee0':datum.value==='TNF-α'?'#1b1be3':datum.value==='CAR-T(%)'?'#f04545':'#ffffff'"}},"stroke":{"value":{"expr":"datum.value==='IL-6'?'#22c322':datum.value==='IL-2R'?'#000000':datum.value==='IL-10'?'#a52ee0':datum.value==='TNF-α'?'#1b1be3':datum.value==='CAR-T(%)'?'#f04545':'#a6a6a6'"}},"strokeWidth":{"value":1.5},"size":{"value":400},"opacity":{"value":1}}}}},"strokeDash":{"field":"s","type":"nominal","scale":{"domain":["IL-6","IL-2R","IL-10","TNF-α","CAR-T(%)","IFN-γ"],"range":[[5,3],[1,0],[5,3],[1,0],[1,0],[5,3]]},"legend":null}}},
{"transform":[{"filter":"datum.s!=='CAR-T(%)'"}],"mark":{"type":"point","filled":true,"size":55,"opacity":1,"strokeWidth":1.3},"encoding":{"shape":{"field":"s","type":"nominal","scale":{"domain":["IL-6","IL-2R","IL-10","TNF-α","CAR-T(%)","IFN-γ"],"range":["circle","square","triangle-up","triangle-down","diamond","circle"]},"legend":null},"fill":{"field":"s","type":"nominal","scale":{"domain":["IL-6","IL-2R","IL-10","TNF-α","CAR-T(%)","IFN-γ"],"range":["#22c322","#000000","#a52ee0","#1b1be3","#f04545","#ffffff"]},"legend":null},"stroke":{"field":"s","type":"nominal","scale":{"domain":["IL-6","IL-2R","IL-10","TNF-α","CAR-T(%)","IFN-γ"],"range":["#22c322","#000000","#a52ee0","#1b1be3","#f04545","#a6a6a6"]},"legend":null}}},
{"data":{"name":"note"},"transform":[{"filter":"datum.p==='5'&&datum.k==='title'"}],"mark":{"type":"text","font":"Liberation Serif","fontWeight":"bold","fontSize":16,"baseline":"middle"},"encoding":{"text":{"field":"t","type":"nominal"}}},
{"data":{"name":"note"},"transform":[{"filter":"datum.p==='5'&&datum.k==='dose'"}],"mark":{"type":"text","font":"Liberation Serif, Noto Sans CJK SC","fontSize":14,"baseline":"middle"},"encoding":{"text":{"field":"t","type":"nominal"}}},
{"data":{"name":"note"},"transform":[{"filter":"datum.p==='5'&&datum.k==='arrow'"}],"mark":{"type":"rule","strokeWidth":1.6,"color":"#000"},"encoding":{"y2":{"field":"v2"}}},
{"data":{"name":"note"},"transform":[{"filter":"datum.p==='5'&&datum.k==='arrow'"}],"mark":{"type":"point","shape":"M-0.9,-2L0.9,-2L0,0Z","filled":true,"color":"#000","size":100,"opacity":1},"encoding":{}}
]},
{"transform":[{"filter":"datum.s==='CAR-T(%)'"}],"encoding":{"y":{"field":"v","type":"quantitative","title":"CAR-T(%)","scale":{"type":"log","domain":[0.1,100],"range":[279,106]},"axis":{"orient":"right","values":[0.1,1,10,100],"labelExpr":"'10'+['⁻²','⁻¹','⁰','¹','²','³','⁴','⁵'][round(log(datum.value)/LN10)+2]","offset":-77,"titlePadding":12}}},
"layer":[{"mark":{"type":"line","strokeWidth":1.6,"color":"#f04545"},"encoding":{}},{"mark":{"type":"point","shape":"diamond","filled":true,"size":40,"opacity":1,"color":"#f04545"},"encoding":{}}]}
]},
{"width":424.6,"height":437.5,"data":{"name":"pt"},"transform":[{"filter":"datum.p==='6'"}],
"encoding":{"x":{"field":"d","type":"quantitative","title":"Time(days)","scale":{"domain":[4,16],"range":[60,286]},"axis":{"values":[4,8,12,16],"offset":-134}}},
"resolve":{"scale":{"y":"independent"}},
"layer":[
{"encoding":{"y":{"field":"v","type":"quantitative","title":"Cytokine(pg/mL)","scale":{"type":"log","domain":[0.1,10000],"range":[303.5,130.5]},"axis":{"values":[0.1,1,10,100,1000,10000],"labelExpr":"'10'+['⁻²','⁻¹','⁰','¹','²','³','⁴','⁵'][round(log(datum.value)/LN10)+2]","offset":-60}}},
"layer":[
{"transform":[{"filter":"datum.s!=='CAR-T(%)'"}],"mark":{"type":"line","strokeWidth":1.6},"encoding":{"color":{"field":"s","type":"nominal","scale":{"domain":["IL-6","IL-2R","IL-10","TNF-α","CAR-T(%)"],"range":["#22c322","#000000","#a52ee0","#1b1be3","#f04545"]},"legend":{"orient":"none","legendX":183,"legendY":11.5,"title":null,"padding":0,"rowPadding":2,"symbolSize":400,"labelOffset":9,"labelFontSize":11,"encode":{"symbols":{"update":{"shape":{"signal":"datum.value==='IL-2R'?'M-0.9,0H0.9M-0.32,-0.32H0.32V0.32H-0.32Z':datum.value==='IL-10'?'M-0.9,0H-0.55M0.55,0H0.9M0,-0.4L0.38,0.27H-0.38Z':datum.value==='TNF-α'?'M-0.9,0H0.9M0,0.4L0.38,-0.27H-0.38Z':datum.value==='CAR-T(%)'?'M-0.9,0H0.9M0,-0.34L0.28,0L0,0.34L-0.28,0Z':'M-0.9,0H-0.55M0.55,0H0.9M0.34,0L0.24,0.24L0,0.34L-0.24,0.24L-0.34,0L-0.24,-0.24L0,-0.34L0.24,-0.24Z'"},"fill":{"signal":"datum.value==='IL-6'?'#22c322':datum.value==='IL-2R'?'#000000':datum.value==='IL-10'?'#a52ee0':datum.value==='TNF-α'?'#1b1be3':datum.value==='CAR-T(%)'?'#f04545':'#ffffff'"},"stroke":{"signal":"datum.value==='IL-6'?'#22c322':datum.value==='IL-2R'?'#000000':datum.value==='IL-10'?'#a52ee0':datum.value==='TNF-α'?'#1b1be3':datum.value==='CAR-T(%)'?'#f04545':'#a6a6a6'"},"strokeWidth":{"value":1.5},"size":{"value":400},"opacity":{"value":1}},"shape":{"value":{"expr":"datum.value==='IL-2R'?'M-0.9,0H0.9M-0.32,-0.32H0.32V0.32H-0.32Z':datum.value==='IL-10'?'M-0.9,0H-0.55M0.55,0H0.9M0,-0.4L0.38,0.27H-0.38Z':datum.value==='TNF-α'?'M-0.9,0H0.9M0,0.4L0.38,-0.27H-0.38Z':datum.value==='CAR-T(%)'?'M-0.9,0H0.9M0,-0.34L0.28,0L0,0.34L-0.28,0Z':'M-0.9,0H-0.55M0.55,0H0.9M0.34,0L0.24,0.24L0,0.34L-0.24,0.24L-0.34,0L-0.24,-0.24L0,-0.34L0.24,-0.24Z'"}},"fill":{"value":{"expr":"datum.value==='IL-6'?'#22c322':datum.value==='IL-2R'?'#000000':datum.value==='IL-10'?'#a52ee0':datum.value==='TNF-α'?'#1b1be3':datum.value==='CAR-T(%)'?'#f04545':'#ffffff'"}},"stroke":{"value":{"expr":"datum.value==='IL-6'?'#22c322':datum.value==='IL-2R'?'#000000':datum.value==='IL-10'?'#a52ee0':datum.value==='TNF-α'?'#1b1be3':datum.value==='CAR-T(%)'?'#f04545':'#a6a6a6'"}},"strokeWidth":{"value":1.5},"size":{"value":400},"opacity":{"value":1}}}}},"strokeDash":{"field":"s","type":"nominal","scale":{"domain":["IL-6","IL-2R","IL-10","TNF-α","CAR-T(%)","IFN-γ"],"range":[[5,3],[1,0],[5,3],[1,0],[1,0],[5,3]]},"legend":null}}},
{"transform":[{"filter":"datum.s!=='CAR-T(%)'"}],"mark":{"type":"point","filled":true,"size":55,"opacity":1,"strokeWidth":1.3},"encoding":{"shape":{"field":"s","type":"nominal","scale":{"domain":["IL-6","IL-2R","IL-10","TNF-α","CAR-T(%)","IFN-γ"],"range":["circle","square","triangle-up","triangle-down","diamond","circle"]},"legend":null},"fill":{"field":"s","type":"nominal","scale":{"domain":["IL-6","IL-2R","IL-10","TNF-α","CAR-T(%)","IFN-γ"],"range":["#22c322","#000000","#a52ee0","#1b1be3","#f04545","#ffffff"]},"legend":null},"stroke":{"field":"s","type":"nominal","scale":{"domain":["IL-6","IL-2R","IL-10","TNF-α","CAR-T(%)","IFN-γ"],"range":["#22c322","#000000","#a52ee0","#1b1be3","#f04545","#a6a6a6"]},"legend":null}}},
{"data":{"name":"note"},"transform":[{"filter":"datum.p==='6'&&datum.k==='title'"}],"mark":{"type":"text","font":"Liberation Serif","fontWeight":"bold","fontSize":16,"baseline":"middle"},"encoding":{"text":{"field":"t","type":"nominal"}}},
{"data":{"name":"note"},"transform":[{"filter":"datum.p==='6'&&datum.k==='dose'"}],"mark":{"type":"text","font":"Liberation Serif, Noto Sans CJK SC","fontSize":14,"baseline":"middle"},"encoding":{"text":{"field":"t","type":"nominal"}}},
{"data":{"name":"note"},"transform":[{"filter":"datum.p==='6'&&datum.k==='arrow'"}],"mark":{"type":"rule","strokeWidth":1.6,"color":"#000"},"encoding":{"y2":{"field":"v2"}}},
{"data":{"name":"note"},"transform":[{"filter":"datum.p==='6'&&datum.k==='arrow'"}],"mark":{"type":"point","shape":"M-0.9,-2L0.9,-2L0,0Z","filled":true,"color":"#000","size":100,"opacity":1},"encoding":{}}
]},
{"transform":[{"filter":"datum.s==='CAR-T(%)'"}],"encoding":{"y":{"field":"v","type":"quantitative","title":"CAR-T(%)","scale":{"type":"log","domain":[0.1,100],"range":[303.5,130.5]},"axis":{"orient":"right","values":[0.1,1,10,100],"labelExpr":"'10'+['⁻²','⁻¹','⁰','¹','²','³','⁴','⁵'][round(log(datum.value)/LN10)+2]","offset":-138.6}}},
"layer":[{"mark":{"type":"line","strokeWidth":1.6,"color":"#f04545"},"encoding":{}},{"mark":{"type":"point","shape":"diamond","filled":true,"size":40,"opacity":1,"color":"#f04545"},"encoding":{}}]}
]},
{"width":424.6,"height":437.5,"data":{"name":"pt"},"transform":[{"filter":"datum.p==='7'"}],
"encoding":{"x":{"field":"d","type":"quantitative","title":"Time(days)","scale":{"domain":[0,28],"range":[64.4,290.4]},"axis":{"values":[0,4,8,12,16,20,24,28],"offset":-134}}},
"resolve":{"scale":{"y":"independent"}},
"layer":[
{"encoding":{"y":{"field":"v","type":"quantitative","title":"Cytokine(pg/mL)","scale":{"type":"log","domain":[0.1,100000],"range":[303.5,130.5]},"axis":{"values":[0.1,1,10,100,1000,10000,100000],"labelExpr":"'10'+['⁻²','⁻¹','⁰','¹','²','³','⁴','⁵'][round(log(datum.value)/LN10)+2]","offset":-64.4}}},
"layer":[
{"transform":[{"filter":"datum.s!=='CAR-T(%)'"}],"mark":{"type":"line","strokeWidth":1.6},"encoding":{"color":{"field":"s","type":"nominal","scale":{"domain":["IL-6","IL-2R","IL-10","TNF-α","CAR-T(%)"],"range":["#22c322","#000000","#a52ee0","#1b1be3","#f04545"]},"legend":{"orient":"none","legendX":187.4,"legendY":20.5,"title":null,"padding":0,"rowPadding":3.75,"symbolSize":400,"labelOffset":9,"labelFontSize":11,"encode":{"symbols":{"update":{"shape":{"signal":"datum.value==='IL-2R'?'M-0.9,0H0.9M-0.32,-0.32H0.32V0.32H-0.32Z':datum.value==='IL-10'?'M-0.9,0H-0.55M0.55,0H0.9M0,-0.4L0.38,0.27H-0.38Z':datum.value==='TNF-α'?'M-0.9,0H0.9M0,0.4L0.38,-0.27H-0.38Z':datum.value==='CAR-T(%)'?'M-0.9,0H0.9M0,-0.34L0.28,0L0,0.34L-0.28,0Z':'M-0.9,0H-0.55M0.55,0H0.9M0.34,0L0.24,0.24L0,0.34L-0.24,0.24L-0.34,0L-0.24,-0.24L0,-0.34L0.24,-0.24Z'"},"fill":{"signal":"datum.value==='IL-6'?'#22c322':datum.value==='IL-2R'?'#000000':datum.value==='IL-10'?'#a52ee0':datum.value==='TNF-α'?'#1b1be3':datum.value==='CAR-T(%)'?'#f04545':'#ffffff'"},"stroke":{"signal":"datum.value==='IL-6'?'#22c322':datum.value==='IL-2R'?'#000000':datum.value==='IL-10'?'#a52ee0':datum.value==='TNF-α'?'#1b1be3':datum.value==='CAR-T(%)'?'#f04545':'#a6a6a6'"},"strokeWidth":{"value":1.5},"size":{"value":400},"opacity":{"value":1}},"shape":{"value":{"expr":"datum.value==='IL-2R'?'M-0.9,0H0.9M-0.32,-0.32H0.32V0.32H-0.32Z':datum.value==='IL-10'?'M-0.9,0H-0.55M0.55,0H0.9M0,-0.4L0.38,0.27H-0.38Z':datum.value==='TNF-α'?'M-0.9,0H0.9M0,0.4L0.38,-0.27H-0.38Z':datum.value==='CAR-T(%)'?'M-0.9,0H0.9M0,-0.34L0.28,0L0,0.34L-0.28,0Z':'M-0.9,0H-0.55M0.55,0H0.9M0.34,0L0.24,0.24L0,0.34L-0.24,0.24L-0.34,0L-0.24,-0.24L0,-0.34L0.24,-0.24Z'"}},"fill":{"value":{"expr":"datum.value==='IL-6'?'#22c322':datum.value==='IL-2R'?'#000000':datum.value==='IL-10'?'#a52ee0':datum.value==='TNF-α'?'#1b1be3':datum.value==='CAR-T(%)'?'#f04545':'#ffffff'"}},"stroke":{"value":{"expr":"datum.value==='IL-6'?'#22c322':datum.value==='IL-2R'?'#000000':datum.value==='IL-10'?'#a52ee0':datum.value==='TNF-α'?'#1b1be3':datum.value==='CAR-T(%)'?'#f04545':'#a6a6a6'"}},"strokeWidth":{"value":1.5},"size":{"value":400},"opacity":{"value":1}}}}},"strokeDash":{"field":"s","type":"nominal","scale":{"domain":["IL-6","IL-2R","IL-10","TNF-α","CAR-T(%)","IFN-γ"],"range":[[5,3],[1,0],[5,3],[1,0],[1,0],[5,3]]},"legend":null}}},
{"transform":[{"filter":"datum.s!=='CAR-T(%)'"}],"mark":{"type":"point","filled":true,"size":55,"opacity":1,"strokeWidth":1.3},"encoding":{"shape":{"field":"s","type":"nominal","scale":{"domain":["IL-6","IL-2R","IL-10","TNF-α","CAR-T(%)","IFN-γ"],"range":["circle","square","triangle-up","triangle-down","diamond","circle"]},"legend":null},"fill":{"field":"s","type":"nominal","scale":{"domain":["IL-6","IL-2R","IL-10","TNF-α","CAR-T(%)","IFN-γ"],"range":["#22c322","#000000","#a52ee0","#1b1be3","#f04545","#ffffff"]},"legend":null},"stroke":{"field":"s","type":"nominal","scale":{"domain":["IL-6","IL-2R","IL-10","TNF-α","CAR-T(%)","IFN-γ"],"range":["#22c322","#000000","#a52ee0","#1b1be3","#f04545","#a6a6a6"]},"legend":null}}},
{"data":{"name":"note"},"transform":[{"filter":"datum.p==='7'&&datum.k==='title'"}],"mark":{"type":"text","font":"Liberation Serif","fontWeight":"bold","fontSize":16,"baseline":"middle"},"encoding":{"text":{"field":"t","type":"nominal"}}},
{"data":{"name":"note"},"transform":[{"filter":"datum.p==='7'&&datum.k==='dose'"}],"mark":{"type":"text","font":"Liberation Serif, Noto Sans CJK SC","fontSize":14,"baseline":"middle"},"encoding":{"text":{"field":"t","type":"nominal"}}},
{"data":{"name":"note"},"transform":[{"filter":"datum.p==='7'&&datum.k==='arrow'"}],"mark":{"type":"rule","strokeWidth":1.6,"color":"#000"},"encoding":{"y2":{"field":"v2"}}},
{"data":{"name":"note"},"transform":[{"filter":"datum.p==='7'&&datum.k==='arrow'"}],"mark":{"type":"point","shape":"M-0.9,-2L0.9,-2L0,0Z","filled":true,"color":"#000","size":100,"opacity":1},"encoding":{}}
]},
{"transform":[{"filter":"datum.s==='CAR-T(%)'"}],"encoding":{"y":{"field":"v","type":"quantitative","title":"CAR-T(%)","scale":{"type":"log","domain":[0.1,100],"range":[303.5,130.5]},"axis":{"orient":"right","values":[0.1,1,10,100],"labelExpr":"'10'+['⁻²','⁻¹','⁰','¹','²','³','⁴','⁵'][round(log(datum.value)/LN10)+2]","offset":-134.2}}},
"layer":[{"mark":{"type":"line","strokeWidth":1.6,"color":"#f04545"},"encoding":{}},{"mark":{"type":"point","shape":"diamond","filled":true,"size":40,"opacity":1,"color":"#f04545"},"encoding":{}}]}
]},
{"width":424.6,"height":437.5,"data":{"name":"pt"},"transform":[{"filter":"datum.p==='8'"}],
"encoding":{"x":{"field":"d","type":"quantitative","title":"Time(days)","scale":{"domain":[4,28],"range":[96.8,322.8]},"axis":{"values":[4,8,12,16,20,24,28],"offset":-134}}},
"resolve":{"scale":{"y":"independent"}},
"layer":[
{"encoding":{"y":{"field":"v","type":"quantitative","title":"Cytokine(pg/mL)","scale":{"type":"log","domain":[0.1,1000],"range":[303.5,130.5]},"axis":{"values":[0.1,1,10,100,1000],"labelExpr":"'10'+['⁻²','⁻¹','⁰','¹','²','³','⁴','⁵'][round(log(datum.value)/LN10)+2]","offset":-96.8}}},
"layer":[
{"transform":[{"filter":"datum.s!=='CAR-T(%)'"}],"mark":{"type":"line","strokeWidth":1.6},"encoding":{"color":{"field":"s","type":"nominal","scale":{"domain":["IL-6","IL-2R","IL-10","TNF-α","CAR-T(%)"],"range":["#22c322","#000000","#a52ee0","#1b1be3","#f04545"]},"legend":{"orient":"none","legendX":218.8,"legendY":20.5,"title":null,"padding":0,"rowPadding":2.75,"symbolSize":400,"labelOffset":9,"labelFontSize":11,"encode":{"symbols":{"update":{"shape":{"signal":"datum.value==='IL-2R'?'M-0.9,0H0.9M-0.32,-0.32H0.32V0.32H-0.32Z':datum.value==='IL-10'?'M-0.9,0H-0.55M0.55,0H0.9M0,-0.4L0.38,0.27H-0.38Z':datum.value==='TNF-α'?'M-0.9,0H0.9M0,0.4L0.38,-0.27H-0.38Z':datum.value==='CAR-T(%)'?'M-0.9,0H0.9M0,-0.34L0.28,0L0,0.34L-0.28,0Z':'M-0.9,0H-0.55M0.55,0H0.9M0.34,0L0.24,0.24L0,0.34L-0.24,0.24L-0.34,0L-0.24,-0.24L0,-0.34L0.24,-0.24Z'"},"fill":{"signal":"datum.value==='IL-6'?'#22c322':datum.value==='IL-2R'?'#000000':datum.value==='IL-10'?'#a52ee0':datum.value==='TNF-α'?'#1b1be3':datum.value==='CAR-T(%)'?'#f04545':'#ffffff'"},"stroke":{"signal":"datum.value==='IL-6'?'#22c322':datum.value==='IL-2R'?'#000000':datum.value==='IL-10'?'#a52ee0':datum.value==='TNF-α'?'#1b1be3':datum.value==='CAR-T(%)'?'#f04545':'#a6a6a6'"},"strokeWidth":{"value":1.5},"size":{"value":400},"opacity":{"value":1}},"shape":{"value":{"expr":"datum.value==='IL-2R'?'M-0.9,0H0.9M-0.32,-0.32H0.32V0.32H-0.32Z':datum.value==='IL-10'?'M-0.9,0H-0.55M0.55,0H0.9M0,-0.4L0.38,0.27H-0.38Z':datum.value==='TNF-α'?'M-0.9,0H0.9M0,0.4L0.38,-0.27H-0.38Z':datum.value==='CAR-T(%)'?'M-0.9,0H0.9M0,-0.34L0.28,0L0,0.34L-0.28,0Z':'M-0.9,0H-0.55M0.55,0H0.9M0.34,0L0.24,0.24L0,0.34L-0.24,0.24L-0.34,0L-0.24,-0.24L0,-0.34L0.24,-0.24Z'"}},"fill":{"value":{"expr":"datum.value==='IL-6'?'#22c322':datum.value==='IL-2R'?'#000000':datum.value==='IL-10'?'#a52ee0':datum.value==='TNF-α'?'#1b1be3':datum.value==='CAR-T(%)'?'#f04545':'#ffffff'"}},"stroke":{"value":{"expr":"datum.value==='IL-6'?'#22c322':datum.value==='IL-2R'?'#000000':datum.value==='IL-10'?'#a52ee0':datum.value==='TNF-α'?'#1b1be3':datum.value==='CAR-T(%)'?'#f04545':'#a6a6a6'"}},"strokeWidth":{"value":1.5},"size":{"value":400},"opacity":{"value":1}}}}},"strokeDash":{"field":"s","type":"nominal","scale":{"domain":["IL-6","IL-2R","IL-10","TNF-α","CAR-T(%)","IFN-γ"],"range":[[5,3],[1,0],[5,3],[1,0],[1,0],[5,3]]},"legend":null}}},
{"transform":[{"filter":"datum.s!=='CAR-T(%)'"}],"mark":{"type":"point","filled":true,"size":55,"opacity":1,"strokeWidth":1.3},"encoding":{"shape":{"field":"s","type":"nominal","scale":{"domain":["IL-6","IL-2R","IL-10","TNF-α","CAR-T(%)","IFN-γ"],"range":["circle","square","triangle-up","triangle-down","diamond","circle"]},"legend":null},"fill":{"field":"s","type":"nominal","scale":{"domain":["IL-6","IL-2R","IL-10","TNF-α","CAR-T(%)","IFN-γ"],"range":["#22c322","#000000","#a52ee0","#1b1be3","#f04545","#ffffff"]},"legend":null},"stroke":{"field":"s","type":"nominal","scale":{"domain":["IL-6","IL-2R","IL-10","TNF-α","CAR-T(%)","IFN-γ"],"range":["#22c322","#000000","#a52ee0","#1b1be3","#f04545","#a6a6a6"]},"legend":null}}},
{"data":{"name":"note"},"transform":[{"filter":"datum.p==='8'&&datum.k==='title'"}],"mark":{"type":"text","font":"Liberation Serif","fontWeight":"bold","fontSize":16,"baseline":"middle"},"encoding":{"text":{"field":"t","type":"nominal"}}},
{"data":{"name":"note"},"transform":[{"filter":"datum.p==='8'&&datum.k==='dose'"}],"mark":{"type":"text","font":"Liberation Serif, Noto Sans CJK SC","fontSize":14,"baseline":"middle"},"encoding":{"text":{"field":"t","type":"nominal"}}},
{"data":{"name":"note"},"transform":[{"filter":"datum.p==='8'&&datum.k==='arrow'"}],"mark":{"type":"rule","strokeWidth":1.6,"color":"#000"},"encoding":{"y2":{"field":"v2"}}},
{"data":{"name":"note"},"transform":[{"filter":"datum.p==='8'&&datum.k==='arrow'"}],"mark":{"type":"point","shape":"M-0.9,-2L0.9,-2L0,0Z","filled":true,"color":"#000","size":100,"opacity":1},"encoding":{}}
]},
{"transform":[{"filter":"datum.s==='CAR-T(%)'"}],"encoding":{"y":{"field":"v","type":"quantitative","title":"CAR-T(%)","scale":{"type":"log","domain":[0.01,10],"range":[303.5,130.5]},"axis":{"orient":"right","values":[0.01,0.1,1,10],"labelExpr":"'10'+['⁻²','⁻¹','⁰','¹','²','³','⁴','⁵'][round(log(datum.value)/LN10)+2]","offset":-101.8}}},
"layer":[{"mark":{"type":"line","strokeWidth":1.6,"color":"#f04545"},"encoding":{}},{"mark":{"type":"point","shape":"diamond","filled":true,"size":40,"opacity":1,"color":"#f04545"},"encoding":{}}]}
]},
{"width":424.6,"height":437.5,"data":{"name":"pt"},"transform":[{"filter":"datum.p==='9'"}],
"encoding":{"x":{"field":"d","type":"quantitative","title":"Time(days)","scale":{"domain":[4,28],"range":[126.2,352.2]},"axis":{"values":[4,8,12,16,20,24,28],"offset":-134}}},
"resolve":{"scale":{"y":"independent"}},
"layer":[
{"encoding":{"y":{"field":"v","type":"quantitative","title":"Cytokine(pg/mL)","scale":{"type":"log","domain":[0.1,1000],"range":[303.5,130.5]},"axis":{"values":[0.1,1,10,100,1000],"labelExpr":"'10'+['⁻²','⁻¹','⁰','¹','²','³','⁴','⁵'][round(log(datum.value)/LN10)+2]","offset":-126.2}}},
"layer":[
{"transform":[{"filter":"datum.s!=='CAR-T(%)'"}],"mark":{"type":"line","strokeWidth":1.6},"encoding":{"color":{"field":"s","type":"nominal","scale":{"domain":["IL-6","IL-2R","IL-10","TNF-α","CAR-T(%)"],"range":["#22c322","#000000","#a52ee0","#1b1be3","#f04545"]},"legend":{"orient":"none","legendX":250.2,"legendY":20.5,"title":null,"padding":0,"rowPadding":3.75,"symbolSize":400,"labelOffset":9,"labelFontSize":11,"encode":{"symbols":{"update":{"shape":{"signal":"datum.value==='IL-2R'?'M-0.9,0H0.9M-0.32,-0.32H0.32V0.32H-0.32Z':datum.value==='IL-10'?'M-0.9,0H-0.55M0.55,0H0.9M0,-0.4L0.38,0.27H-0.38Z':datum.value==='TNF-α'?'M-0.9,0H0.9M0,0.4L0.38,-0.27H-0.38Z':datum.value==='CAR-T(%)'?'M-0.9,0H0.9M0,-0.34L0.28,0L0,0.34L-0.28,0Z':'M-0.9,0H-0.55M0.55,0H0.9M0.34,0L0.24,0.24L0,0.34L-0.24,0.24L-0.34,0L-0.24,-0.24L0,-0.34L0.24,-0.24Z'"},"fill":{"signal":"datum.value==='IL-6'?'#22c322':datum.value==='IL-2R'?'#000000':datum.value==='IL-10'?'#a52ee0':datum.value==='TNF-α'?'#1b1be3':datum.value==='CAR-T(%)'?'#f04545':'#ffffff'"},"stroke":{"signal":"datum.value==='IL-6'?'#22c322':datum.value==='IL-2R'?'#000000':datum.value==='IL-10'?'#a52ee0':datum.value==='TNF-α'?'#1b1be3':datum.value==='CAR-T(%)'?'#f04545':'#a6a6a6'"},"strokeWidth":{"value":1.5},"size":{"value":400},"opacity":{"value":1}},"shape":{"value":{"expr":"datum.value==='IL-2R'?'M-0.9,0H0.9M-0.32,-0.32H0.32V0.32H-0.32Z':datum.value==='IL-10'?'M-0.9,0H-0.55M0.55,0H0.9M0,-0.4L0.38,0.27H-0.38Z':datum.value==='TNF-α'?'M-0.9,0H0.9M0,0.4L0.38,-0.27H-0.38Z':datum.value==='CAR-T(%)'?'M-0.9,0H0.9M0,-0.34L0.28,0L0,0.34L-0.28,0Z':'M-0.9,0H-0.55M0.55,0H0.9M0.34,0L0.24,0.24L0,0.34L-0.24,0.24L-0.34,0L-0.24,-0.24L0,-0.34L0.24,-0.24Z'"}},"fill":{"value":{"expr":"datum.value==='IL-6'?'#22c322':datum.value==='IL-2R'?'#000000':datum.value==='IL-10'?'#a52ee0':datum.value==='TNF-α'?'#1b1be3':datum.value==='CAR-T(%)'?'#f04545':'#ffffff'"}},"stroke":{"value":{"expr":"datum.value==='IL-6'?'#22c322':datum.value==='IL-2R'?'#000000':datum.value==='IL-10'?'#a52ee0':datum.value==='TNF-α'?'#1b1be3':datum.value==='CAR-T(%)'?'#f04545':'#a6a6a6'"}},"strokeWidth":{"value":1.5},"size":{"value":400},"opacity":{"value":1}}}}},"strokeDash":{"field":"s","type":"nominal","scale":{"domain":["IL-6","IL-2R","IL-10","TNF-α","CAR-T(%)","IFN-γ"],"range":[[5,3],[1,0],[5,3],[1,0],[1,0],[5,3]]},"legend":null}}},
{"transform":[{"filter":"datum.s!=='CAR-T(%)'"}],"mark":{"type":"point","filled":true,"size":55,"opacity":1,"strokeWidth":1.3},"encoding":{"shape":{"field":"s","type":"nominal","scale":{"domain":["IL-6","IL-2R","IL-10","TNF-α","CAR-T(%)","IFN-γ"],"range":["circle","square","triangle-up","triangle-down","diamond","circle"]},"legend":null},"fill":{"field":"s","type":"nominal","scale":{"domain":["IL-6","IL-2R","IL-10","TNF-α","CAR-T(%)","IFN-γ"],"range":["#22c322","#000000","#a52ee0","#1b1be3","#f04545","#ffffff"]},"legend":null},"stroke":{"field":"s","type":"nominal","scale":{"domain":["IL-6","IL-2R","IL-10","TNF-α","CAR-T(%)","IFN-γ"],"range":["#22c322","#000000","#a52ee0","#1b1be3","#f04545","#a6a6a6"]},"legend":null}}},
{"data":{"name":"note"},"transform":[{"filter":"datum.p==='9'&&datum.k==='title'"}],"mark":{"type":"text","font":"Liberation Serif","fontWeight":"bold","fontSize":16,"baseline":"middle"},"encoding":{"text":{"field":"t","type":"nominal"}}},
{"data":{"name":"note"},"transform":[{"filter":"datum.p==='9'&&datum.k==='dose'"}],"mark":{"type":"text","font":"Liberation Serif, Noto Sans CJK SC","fontSize":14,"baseline":"middle"},"encoding":{"text":{"field":"t","type":"nominal"}}},
{"data":{"name":"note"},"transform":[{"filter":"datum.p==='9'&&datum.k==='arrow'"}],"mark":{"type":"rule","strokeWidth":1.6,"color":"#000"},"encoding":{"y2":{"field":"v2"}}},
{"data":{"name":"note"},"transform":[{"filter":"datum.p==='9'&&datum.k==='arrow'"}],"mark":{"type":"point","shape":"M-0.9,-2L0.9,-2L0,0Z","filled":true,"color":"#000","size":100,"opacity":1},"encoding":{}}
]},
{"transform":[{"filter":"datum.s==='CAR-T(%)'"}],"encoding":{"y":{"field":"v","type":"quantitative","title":"CAR-T(%)","scale":{"type":"log","domain":[0.1,100],"range":[303.5,130.5]},"axis":{"orient":"right","values":[0.1,1,10,100],"labelExpr":"'10'+['⁻²','⁻¹','⁰','¹','²','³','⁴','⁵'][round(log(datum.value)/LN10)+2]","offset":-72.4}}},
"layer":[{"mark":{"type":"line","strokeWidth":1.6,"color":"#f04545"},"encoding":{}},{"mark":{"type":"point","shape":"diamond","filled":true,"size":40,"opacity":1,"color":"#f04545"},"encoding":{}}]}
]},
{"width":424.6,"height":437.5,"data":{"name":"pt"},"transform":[{"filter":"datum.p==='10'"}],
"encoding":{"x":{"field":"d","type":"quantitative","title":"Time(days)","scale":{"domain":[0,28],"range":[121.6,347.6]},"axis":{"values":[0,4,8,12,16,20,24,28],"offset":-141}}},
"resolve":{"scale":{"y":"independent"}},
"layer":[
{"encoding":{"y":{"field":"v","type":"quantitative","title":"Cytokine(pg/mL)","scale":{"type":"log","domain":[0.1,10000],"range":[296.5,123.5]},"axis":{"values":[0.1,1,10,100,1000,10000],"labelExpr":"'10'+['⁻²','⁻¹','⁰','¹','²','³','⁴','⁵'][round(log(datum.value)/LN10)+2]","offset":-121.6}}},
"layer":[
{"transform":[{"filter":"datum.s!=='CAR-T(%)'"}],"mark":{"type":"line","strokeWidth":1.6},"encoding":{"color":{"field":"s","type":"nominal","scale":{"domain":["IL-6","IL-2R","IL-10","TNF-α","CAR-T(%)","IFN-γ"],"range":["#22c322","#000000","#a52ee0","#1b1be3","#f04545","#a6a6a6"]},"legend":{"orient":"none","legendX":246.6,"legendY":12.5,"title":null,"padding":0,"rowPadding":3.4,"symbolSize":400,"labelOffset":9,"labelFontSize":11,"encode":{"symbols":{"update":{"shape":{"signal":"datum.value==='IL-2R'?'M-0.9,0H0.9M-0.32,-0.32H0.32V0.32H-0.32Z':datum.value==='IL-10'?'M-0.9,0H-0.55M0.55,0H0.9M0,-0.4L0.38,0.27H-0.38Z':datum.value==='TNF-α'?'M-0.9,0H0.9M0,0.4L0.38,-0.27H-0.38Z':datum.value==='CAR-T(%)'?'M-0.9,0H0.9M0,-0.34L0.28,0L0,0.34L-0.28,0Z':'M-0.9,0H-0.55M0.55,0H0.9M0.34,0L0.24,0.24L0,0.34L-0.24,0.24L-0.34,0L-0.24,-0.24L0,-0.34L0.24,-0.24Z'"},"fill":{"signal":"datum.value==='IL-6'?'#22c322':datum.value==='IL-2R'?'#000000':datum.value==='IL-10'?'#a52ee0':datum.value==='TNF-α'?'#1b1be3':datum.value==='CAR-T(%)'?'#f04545':'#ffffff'"},"stroke":{"signal":"datum.value==='IL-6'?'#22c322':datum.value==='IL-2R'?'#000000':datum.value==='IL-10'?'#a52ee0':datum.value==='TNF-α'?'#1b1be3':datum.value==='CAR-T(%)'?'#f04545':'#a6a6a6'"},"strokeWidth":{"value":1.5},"size":{"value":400},"opacity":{"value":1}},"shape":{"value":{"expr":"datum.value==='IL-2R'?'M-0.9,0H0.9M-0.32,-0.32H0.32V0.32H-0.32Z':datum.value==='IL-10'?'M-0.9,0H-0.55M0.55,0H0.9M0,-0.4L0.38,0.27H-0.38Z':datum.value==='TNF-α'?'M-0.9,0H0.9M0,0.4L0.38,-0.27H-0.38Z':datum.value==='CAR-T(%)'?'M-0.9,0H0.9M0,-0.34L0.28,0L0,0.34L-0.28,0Z':'M-0.9,0H-0.55M0.55,0H0.9M0.34,0L0.24,0.24L0,0.34L-0.24,0.24L-0.34,0L-0.24,-0.24L0,-0.34L0.24,-0.24Z'"}},"fill":{"value":{"expr":"datum.value==='IL-6'?'#22c322':datum.value==='IL-2R'?'#000000':datum.value==='IL-10'?'#a52ee0':datum.value==='TNF-α'?'#1b1be3':datum.value==='CAR-T(%)'?'#f04545':'#ffffff'"}},"stroke":{"value":{"expr":"datum.value==='IL-6'?'#22c322':datum.value==='IL-2R'?'#000000':datum.value==='IL-10'?'#a52ee0':datum.value==='TNF-α'?'#1b1be3':datum.value==='CAR-T(%)'?'#f04545':'#a6a6a6'"}},"strokeWidth":{"value":1.5},"size":{"value":400},"opacity":{"value":1}}}}},"strokeDash":{"field":"s","type":"nominal","scale":{"domain":["IL-6","IL-2R","IL-10","TNF-α","CAR-T(%)","IFN-γ"],"range":[[5,3],[1,0],[5,3],[1,0],[1,0],[5,3]]},"legend":null}}},
{"transform":[{"filter":"datum.s!=='CAR-T(%)'"}],"mark":{"type":"point","filled":true,"size":55,"opacity":1,"strokeWidth":1.3},"encoding":{"shape":{"field":"s","type":"nominal","scale":{"domain":["IL-6","IL-2R","IL-10","TNF-α","CAR-T(%)","IFN-γ"],"range":["circle","square","triangle-up","triangle-down","diamond","circle"]},"legend":null},"fill":{"field":"s","type":"nominal","scale":{"domain":["IL-6","IL-2R","IL-10","TNF-α","CAR-T(%)","IFN-γ"],"range":["#22c322","#000000","#a52ee0","#1b1be3","#f04545","#ffffff"]},"legend":null},"stroke":{"field":"s","type":"nominal","scale":{"domain":["IL-6","IL-2R","IL-10","TNF-α","CAR-T(%)","IFN-γ"],"range":["#22c322","#000000","#a52ee0","#1b1be3","#f04545","#a6a6a6"]},"legend":null}}},
{"data":{"name":"note"},"transform":[{"filter":"datum.p==='10'&&datum.k==='title'"}],"mark":{"type":"text","font":"Liberation Serif","fontWeight":"bold","fontSize":16,"baseline":"middle"},"encoding":{"text":{"field":"t","type":"nominal"}}},
{"data":{"name":"note"},"transform":[{"filter":"datum.p==='10'&&datum.k==='dose'"}],"mark":{"type":"text","font":"Liberation Serif, Noto Sans CJK SC","fontSize":14,"baseline":"middle"},"encoding":{"text":{"field":"t","type":"nominal"}}},
{"data":{"name":"note"},"transform":[{"filter":"datum.p==='10'&&datum.k==='arrow'"}],"mark":{"type":"rule","strokeWidth":1.6,"color":"#000"},"encoding":{"y2":{"field":"v2"}}},
{"data":{"name":"note"},"transform":[{"filter":"datum.p==='10'&&datum.k==='arrow'"}],"mark":{"type":"point","shape":"M-0.9,-2L0.9,-2L0,0Z","filled":true,"color":"#000","size":100,"opacity":1},"encoding":{}}
]},
{"transform":[{"filter":"datum.s==='CAR-T(%)'"}],"encoding":{"y":{"field":"v","type":"quantitative","title":"CAR-T(%)","scale":{"type":"log","domain":[0.01,10],"range":[296.5,123.5]},"axis":{"orient":"right","values":[0.01,0.1,1,10],"labelExpr":"'10'+['⁻²','⁻¹','⁰','¹','²','³','⁴','⁵'][round(log(datum.value)/LN10)+2]","offset":-77,"titlePadding":12}}},
"layer":[{"mark":{"type":"line","strokeWidth":1.6,"color":"#f04545"},"encoding":{}},{"mark":{"type":"point","shape":"diamond","filled":true,"size":40,"opacity":1,"color":"#f04545"},"encoding":{}}]}
]},
{"width":424.6,"height":437.5,"data":{"name":"pt"},"transform":[{"filter":"datum.p==='11'"}],
"encoding":{"x":{"field":"d","type":"quantitative","title":"Time(days)","scale":{"domain":[4,16],"range":[76,302]},"axis":{"values":[4,8,12,16],"offset":-87.5}}},
"resolve":{"scale":{"y":"independent"}},
"layer":[
{"encoding":{"y":{"field":"v","type":"quantitative","title":"Cytokine(pg/mL)","scale":{"type":"log","domain":[0.1,1000],"range":[350,177]},"axis":{"values":[0.1,1,10,100,1000],"labelExpr":"'10'+['⁻²','⁻¹','⁰','¹','²','³','⁴','⁵'][round(log(datum.value)/LN10)+2]","offset":-76}}},
"layer":[
{"transform":[{"filter":"datum.s!=='CAR-T(%)'"}],"mark":{"type":"line","strokeWidth":1.6},"encoding":{"color":{"field":"s","type":"nominal","scale":{"domain":["IL-6","IL-2R","IL-10","TNF-α","CAR-T(%)","IFN-γ"],"range":["#22c322","#000000","#a52ee0","#1b1be3","#f04545","#a6a6a6"]},"legend":{"orient":"none","legendX":198,"legendY":36,"title":null,"padding":0,"rowPadding":4.8,"symbolSize":400,"labelOffset":9,"labelFontSize":11,"encode":{"symbols":{"update":{"shape":{"signal":"datum.value==='IL-2R'?'M-0.9,0H0.9M-0.32,-0.32H0.32V0.32H-0.32Z':datum.value==='IL-10'?'M-0.9,0H-0.55M0.55,0H0.9M0,-0.4L0.38,0.27H-0.38Z':datum.value==='TNF-α'?'M-0.9,0H0.9M0,0.4L0.38,-0.27H-0.38Z':datum.value==='CAR-T(%)'?'M-0.9,0H0.9M0,-0.34L0.28,0L0,0.34L-0.28,0Z':'M-0.9,0H-0.55M0.55,0H0.9M0.34,0L0.24,0.24L0,0.34L-0.24,0.24L-0.34,0L-0.24,-0.24L0,-0.34L0.24,-0.24Z'"},"fill":{"signal":"datum.value==='IL-6'?'#22c322':datum.value==='IL-2R'?'#000000':datum.value==='IL-10'?'#a52ee0':datum.value==='TNF-α'?'#1b1be3':datum.value==='CAR-T(%)'?'#f04545':'#ffffff'"},"stroke":{"signal":"datum.value==='IL-6'?'#22c322':datum.value==='IL-2R'?'#000000':datum.value==='IL-10'?'#a52ee0':datum.value==='TNF-α'?'#1b1be3':datum.value==='CAR-T(%)'?'#f04545':'#a6a6a6'"},"strokeWidth":{"value":1.5},"size":{"value":400},"opacity":{"value":1}},"shape":{"value":{"expr":"datum.value==='IL-2R'?'M-0.9,0H0.9M-0.32,-0.32H0.32V0.32H-0.32Z':datum.value==='IL-10'?'M-0.9,0H-0.55M0.55,0H0.9M0,-0.4L0.38,0.27H-0.38Z':datum.value==='TNF-α'?'M-0.9,0H0.9M0,0.4L0.38,-0.27H-0.38Z':datum.value==='CAR-T(%)'?'M-0.9,0H0.9M0,-0.34L0.28,0L0,0.34L-0.28,0Z':'M-0.9,0H-0.55M0.55,0H0.9M0.34,0L0.24,0.24L0,0.34L-0.24,0.24L-0.34,0L-0.24,-0.24L0,-0.34L0.24,-0.24Z'"}},"fill":{"value":{"expr":"datum.value==='IL-6'?'#22c322':datum.value==='IL-2R'?'#000000':datum.value==='IL-10'?'#a52ee0':datum.value==='TNF-α'?'#1b1be3':datum.value==='CAR-T(%)'?'#f04545':'#ffffff'"}},"stroke":{"value":{"expr":"datum.value==='IL-6'?'#22c322':datum.value==='IL-2R'?'#000000':datum.value==='IL-10'?'#a52ee0':datum.value==='TNF-α'?'#1b1be3':datum.value==='CAR-T(%)'?'#f04545':'#a6a6a6'"}},"strokeWidth":{"value":1.5},"size":{"value":400},"opacity":{"value":1}}}}},"strokeDash":{"field":"s","type":"nominal","scale":{"domain":["IL-6","IL-2R","IL-10","TNF-α","CAR-T(%)","IFN-γ"],"range":[[5,3],[1,0],[5,3],[1,0],[1,0],[5,3]]},"legend":null}}},
{"transform":[{"filter":"datum.s!=='CAR-T(%)'"}],"mark":{"type":"point","filled":true,"size":55,"opacity":1,"strokeWidth":1.3},"encoding":{"shape":{"field":"s","type":"nominal","scale":{"domain":["IL-6","IL-2R","IL-10","TNF-α","CAR-T(%)","IFN-γ"],"range":["circle","square","triangle-up","triangle-down","diamond","circle"]},"legend":null},"fill":{"field":"s","type":"nominal","scale":{"domain":["IL-6","IL-2R","IL-10","TNF-α","CAR-T(%)","IFN-γ"],"range":["#22c322","#000000","#a52ee0","#1b1be3","#f04545","#ffffff"]},"legend":null},"stroke":{"field":"s","type":"nominal","scale":{"domain":["IL-6","IL-2R","IL-10","TNF-α","CAR-T(%)","IFN-γ"],"range":["#22c322","#000000","#a52ee0","#1b1be3","#f04545","#a6a6a6"]},"legend":null}}},
{"data":{"name":"note"},"transform":[{"filter":"datum.p==='11'&&datum.k==='title'"}],"mark":{"type":"text","font":"Liberation Serif","fontWeight":"bold","fontSize":16,"baseline":"middle"},"encoding":{"text":{"field":"t","type":"nominal"}}},
{"data":{"name":"note"},"transform":[{"filter":"datum.p==='11'&&datum.k==='dose'"}],"mark":{"type":"text","font":"Liberation Serif, Noto Sans CJK SC","fontSize":14,"baseline":"middle"},"encoding":{"text":{"field":"t","type":"nominal"}}},
{"data":{"name":"note"},"transform":[{"filter":"datum.p==='11'&&datum.k==='arrow'"}],"mark":{"type":"rule","strokeWidth":1.6,"color":"#000"},"encoding":{"y2":{"field":"v2"}}},
{"data":{"name":"note"},"transform":[{"filter":"datum.p==='11'&&datum.k==='arrow'"}],"mark":{"type":"point","shape":"M-0.9,-2L0.9,-2L0,0Z","filled":true,"color":"#000","size":100,"opacity":1},"encoding":{}}
]},
{"transform":[{"filter":"datum.s==='CAR-T(%)'"}],"encoding":{"y":{"field":"v","type":"quantitative","title":"CAR-T(%)","scale":{"type":"log","domain":[0.1,100],"range":[350,177]},"axis":{"orient":"right","values":[0.1,1,10,100],"labelExpr":"'10'+['⁻²','⁻¹','⁰','¹','²','³','⁴','⁵'][round(log(datum.value)/LN10)+2]","offset":-122.6}}},
"layer":[{"mark":{"type":"line","strokeWidth":1.6,"color":"#f04545"},"encoding":{}},{"mark":{"type":"point","shape":"diamond","filled":true,"size":40,"opacity":1,"color":"#f04545"},"encoding":{}}]}
]},
{"width":424.6,"height":437.5,"data":{"name":"pt"},"transform":[{"filter":"datum.p==='12'"}],
"encoding":{"x":{"field":"d","type":"quantitative","title":"Time(days)","scale":{"domain":[4,16],"range":[80.4,306.4]},"axis":{"values":[4,8,12,16],"offset":-102.5}}},
"resolve":{"scale":{"y":"independent"}},
"layer":[
{"encoding":{"y":{"field":"v","type":"quantitative","title":"Cytokine(pg/mL)","scale":{"type":"log","domain":[0.1,1000],"range":[335,162]},"axis":{"values":[0.1,1,10,100,1000],"labelExpr":"'10'+['⁻²','⁻¹','⁰','¹','²','³','⁴','⁵'][round(log(datum.value)/LN10)+2]","offset":-80.4}}},
"layer":[
{"transform":[{"filter":"datum.s!=='CAR-T(%)'"}],"mark":{"type":"line","strokeWidth":1.6},"encoding":{"color":{"field":"s","type":"nominal","scale":{"domain":["IL-6","IL-2R","IL-10","TNF-α","CAR-T(%)"],"range":["#22c322","#000000","#a52ee0","#1b1be3","#f04545"]},"legend":{"orient":"none","legendX":203.4,"legendY":44,"title":null,"padding":0,"rowPadding":5.75,"symbolSize":400,"labelOffset":9,"labelFontSize":11,"encode":{"symbols":{"update":{"shape":{"signal":"datum.value==='IL-2R'?'M-0.9,0H0.9M-0.32,-0.32H0.32V0.32H-0.32Z':datum.value==='IL-10'?'M-0.9,0H-0.55M0.55,0H0.9M0,-0.4L0.38,0.27H-0.38Z':datum.value==='TNF-α'?'M-0.9,0H0.9M0,0.4L0.38,-0.27H-0.38Z':datum.value==='CAR-T(%)'?'M-0.9,0H0.9M0,-0.34L0.28,0L0,0.34L-0.28,0Z':'M-0.9,0H-0.55M0.55,0H0.9M0.34,0L0.24,0.24L0,0.34L-0.24,0.24L-0.34,0L-0.24,-0.24L0,-0.34L0.24,-0.24Z'"},"fill":{"signal":"datum.value==='IL-6'?'#22c322':datum.value==='IL-2R'?'#000000':datum.value==='IL-10'?'#a52ee0':datum.value==='TNF-α'?'#1b1be3':datum.value==='CAR-T(%)'?'#f04545':'#ffffff'"},"stroke":{"signal":"datum.value==='IL-6'?'#22c322':datum.value==='IL-2R'?'#000000':datum.value==='IL-10'?'#a52ee0':datum.value==='TNF-α'?'#1b1be3':datum.value==='CAR-T(%)'?'#f04545':'#a6a6a6'"},"strokeWidth":{"value":1.5},"size":{"value":400},"opacity":{"value":1}},"shape":{"value":{"expr":"datum.value==='IL-2R'?'M-0.9,0H0.9M-0.32,-0.32H0.32V0.32H-0.32Z':datum.value==='IL-10'?'M-0.9,0H-0.55M0.55,0H0.9M0,-0.4L0.38,0.27H-0.38Z':datum.value==='TNF-α'?'M-0.9,0H0.9M0,0.4L0.38,-0.27H-0.38Z':datum.value==='CAR-T(%)'?'M-0.9,0H0.9M0,-0.34L0.28,0L0,0.34L-0.28,0Z':'M-0.9,0H-0.55M0.55,0H0.9M0.34,0L0.24,0.24L0,0.34L-0.24,0.24L-0.34,0L-0.24,-0.24L0,-0.34L0.24,-0.24Z'"}},"fill":{"value":{"expr":"datum.value==='IL-6'?'#22c322':datum.value==='IL-2R'?'#000000':datum.value==='IL-10'?'#a52ee0':datum.value==='TNF-α'?'#1b1be3':datum.value==='CAR-T(%)'?'#f04545':'#ffffff'"}},"stroke":{"value":{"expr":"datum.value==='IL-6'?'#22c322':datum.value==='IL-2R'?'#000000':datum.value==='IL-10'?'#a52ee0':datum.value==='TNF-α'?'#1b1be3':datum.value==='CAR-T(%)'?'#f04545':'#a6a6a6'"}},"strokeWidth":{"value":1.5},"size":{"value":400},"opacity":{"value":1}}}}},"strokeDash":{"field":"s","type":"nominal","scale":{"domain":["IL-6","IL-2R","IL-10","TNF-α","CAR-T(%)","IFN-γ"],"range":[[5,3],[1,0],[5,3],[1,0],[1,0],[5,3]]},"legend":null}}},
{"transform":[{"filter":"datum.s!=='CAR-T(%)'"}],"mark":{"type":"point","filled":true,"size":55,"opacity":1,"strokeWidth":1.3},"encoding":{"shape":{"field":"s","type":"nominal","scale":{"domain":["IL-6","IL-2R","IL-10","TNF-α","CAR-T(%)","IFN-γ"],"range":["circle","square","triangle-up","triangle-down","diamond","circle"]},"legend":null},"fill":{"field":"s","type":"nominal","scale":{"domain":["IL-6","IL-2R","IL-10","TNF-α","CAR-T(%)","IFN-γ"],"range":["#22c322","#000000","#a52ee0","#1b1be3","#f04545","#ffffff"]},"legend":null},"stroke":{"field":"s","type":"nominal","scale":{"domain":["IL-6","IL-2R","IL-10","TNF-α","CAR-T(%)","IFN-γ"],"range":["#22c322","#000000","#a52ee0","#1b1be3","#f04545","#a6a6a6"]},"legend":null}}},
{"data":{"name":"note"},"transform":[{"filter":"datum.p==='12'&&datum.k==='title'"}],"mark":{"type":"text","font":"Liberation Serif","fontWeight":"bold","fontSize":16,"baseline":"middle"},"encoding":{"text":{"field":"t","type":"nominal"}}},
{"data":{"name":"note"},"transform":[{"filter":"datum.p==='12'&&datum.k==='dose'"}],"mark":{"type":"text","font":"Liberation Serif, Noto Sans CJK SC","fontSize":14,"baseline":"middle"},"encoding":{"text":{"field":"t","type":"nominal"}}},
{"data":{"name":"note"},"transform":[{"filter":"datum.p==='12'&&datum.k==='arrow'"}],"mark":{"type":"rule","strokeWidth":1.6,"color":"#000"},"encoding":{"y2":{"field":"v2"}}},
{"data":{"name":"note"},"transform":[{"filter":"datum.p==='12'&&datum.k==='arrow'"}],"mark":{"type":"point","shape":"M-0.9,-2L0.9,-2L0,0Z","filled":true,"color":"#000","size":100,"opacity":1},"encoding":{}}
]},
{"transform":[{"filter":"datum.s==='CAR-T(%)'"}],"encoding":{"y":{"field":"v","type":"quantitative","title":"CAR-T(%)","scale":{"type":"log","domain":[0.1,100],"range":[335,162]},"axis":{"orient":"right","values":[0.1,1,10,100],"labelExpr":"'10'+['⁻²','⁻¹','⁰','¹','²','³','⁴','⁵'][round(log(datum.value)/LN10)+2]","offset":-118.2}}},
"layer":[{"mark":{"type":"line","strokeWidth":1.6,"color":"#f04545"},"encoding":{}},{"mark":{"type":"point","shape":"diamond","filled":true,"size":40,"opacity":1,"color":"#f04545"},"encoding":{}}]}
]},
{"width":424.6,"height":437.5,"data":{"name":"pt"},"transform":[{"filter":"datum.p==='13'"}],
"encoding":{"x":{"field":"d","type":"quantitative","title":"Time(days)","scale":{"domain":[4,16],"range":[112.8,338.8]},"axis":{"values":[4,8,12,16],"offset":-78.5}}},
"resolve":{"scale":{"y":"independent"}},
"layer":[
{"encoding":{"y":{"field":"v","type":"quantitative","title":"Cytokine(pg/mL)","scale":{"type":"log","domain":[0.1,1000],"range":[359,186]},"axis":{"values":[0.1,1,10,100,1000],"labelExpr":"'10'+['⁻²','⁻¹','⁰','¹','²','³','⁴','⁵'][round(log(datum.value)/LN10)+2]","offset":-112.8}}},
"layer":[
{"transform":[{"filter":"datum.s!=='CAR-T(%)'"}],"mark":{"type":"line","strokeWidth":1.6},"encoding":{"color":{"field":"s","type":"nominal","scale":{"domain":["IL-6","IL-2R","IL-10","TNF-α","CAR-T(%)","IFN-γ"],"range":["#22c322","#000000","#a52ee0","#1b1be3","#f04545","#a6a6a6"]},"legend":{"orient":"none","legendX":234.8,"legendY":44,"title":null,"padding":0,"rowPadding":5,"symbolSize":400,"labelOffset":9,"labelFontSize":11,"encode":{"symbols":{"update":{"shape":{"signal":"datum.value==='IL-2R'?'M-0.9,0H0.9M-0.32,-0.32H0.32V0.32H-0.32Z':datum.value==='IL-10'?'M-0.9,0H-0.55M0.55,0H0.9M0,-0.4L0.38,0.27H-0.38Z':datum.value==='TNF-α'?'M-0.9,0H0.9M0,0.4L0.38,-0.27H-0.38Z':datum.value==='CAR-T(%)'?'M-0.9,0H0.9M0,-0.34L0.28,0L0,0.34L-0.28,0Z':'M-0.9,0H-0.55M0.55,0H0.9M0.34,0L0.24,0.24L0,0.34L-0.24,0.24L-0.34,0L-0.24,-0.24L0,-0.34L0.24,-0.24Z'"},"fill":{"signal":"datum.value==='IL-6'?'#22c322':datum.value==='IL-2R'?'#000000':datum.value==='IL-10'?'#a52ee0':datum.value==='TNF-α'?'#1b1be3':datum.value==='CAR-T(%)'?'#f04545':'#ffffff'"},"stroke":{"signal":"datum.value==='IL-6'?'#22c322':datum.value==='IL-2R'?'#000000':datum.value==='IL-10'?'#a52ee0':datum.value==='TNF-α'?'#1b1be3':datum.value==='CAR-T(%)'?'#f04545':'#a6a6a6'"},"strokeWidth":{"value":1.5},"size":{"value":400},"opacity":{"value":1}},"shape":{"value":{"expr":"datum.value==='IL-2R'?'M-0.9,0H0.9M-0.32,-0.32H0.32V0.32H-0.32Z':datum.value==='IL-10'?'M-0.9,0H-0.55M0.55,0H0.9M0,-0.4L0.38,0.27H-0.38Z':datum.value==='TNF-α'?'M-0.9,0H0.9M0,0.4L0.38,-0.27H-0.38Z':datum.value==='CAR-T(%)'?'M-0.9,0H0.9M0,-0.34L0.28,0L0,0.34L-0.28,0Z':'M-0.9,0H-0.55M0.55,0H0.9M0.34,0L0.24,0.24L0,0.34L-0.24,0.24L-0.34,0L-0.24,-0.24L0,-0.34L0.24,-0.24Z'"}},"fill":{"value":{"expr":"datum.value==='IL-6'?'#22c322':datum.value==='IL-2R'?'#000000':datum.value==='IL-10'?'#a52ee0':datum.value==='TNF-α'?'#1b1be3':datum.value==='CAR-T(%)'?'#f04545':'#ffffff'"}},"stroke":{"value":{"expr":"datum.value==='IL-6'?'#22c322':datum.value==='IL-2R'?'#000000':datum.value==='IL-10'?'#a52ee0':datum.value==='TNF-α'?'#1b1be3':datum.value==='CAR-T(%)'?'#f04545':'#a6a6a6'"}},"strokeWidth":{"value":1.5},"size":{"value":400},"opacity":{"value":1}}}}},"strokeDash":{"field":"s","type":"nominal","scale":{"domain":["IL-6","IL-2R","IL-10","TNF-α","CAR-T(%)","IFN-γ"],"range":[[5,3],[1,0],[5,3],[1,0],[1,0],[5,3]]},"legend":null}}},
{"transform":[{"filter":"datum.s!=='CAR-T(%)'"}],"mark":{"type":"point","filled":true,"size":55,"opacity":1,"strokeWidth":1.3},"encoding":{"shape":{"field":"s","type":"nominal","scale":{"domain":["IL-6","IL-2R","IL-10","TNF-α","CAR-T(%)","IFN-γ"],"range":["circle","square","triangle-up","triangle-down","diamond","circle"]},"legend":null},"fill":{"field":"s","type":"nominal","scale":{"domain":["IL-6","IL-2R","IL-10","TNF-α","CAR-T(%)","IFN-γ"],"range":["#22c322","#000000","#a52ee0","#1b1be3","#f04545","#ffffff"]},"legend":null},"stroke":{"field":"s","type":"nominal","scale":{"domain":["IL-6","IL-2R","IL-10","TNF-α","CAR-T(%)","IFN-γ"],"range":["#22c322","#000000","#a52ee0","#1b1be3","#f04545","#a6a6a6"]},"legend":null}}},
{"data":{"name":"note"},"transform":[{"filter":"datum.p==='13'&&datum.k==='title'"}],"mark":{"type":"text","font":"Liberation Serif","fontWeight":"bold","fontSize":16,"baseline":"middle"},"encoding":{"text":{"field":"t","type":"nominal"}}},
{"data":{"name":"note"},"transform":[{"filter":"datum.p==='13'&&datum.k==='dose'"}],"mark":{"type":"text","font":"Liberation Serif, Noto Sans CJK SC","fontSize":14,"baseline":"middle"},"encoding":{"text":{"field":"t","type":"nominal"}}},
{"data":{"name":"note"},"transform":[{"filter":"datum.p==='13'&&datum.k==='arrow'"}],"mark":{"type":"rule","strokeWidth":1.6,"color":"#000"},"encoding":{"y2":{"field":"v2"}}},
{"data":{"name":"note"},"transform":[{"filter":"datum.p==='13'&&datum.k==='arrow'"}],"mark":{"type":"point","shape":"M-0.9,-2L0.9,-2L0,0Z","filled":true,"color":"#000","size":100,"opacity":1},"encoding":{}}
]},
{"transform":[{"filter":"datum.s==='CAR-T(%)'"}],"encoding":{"y":{"field":"v","type":"quantitative","title":"CAR-T(%)","scale":{"type":"log","domain":[0.1,100],"range":[359,186]},"axis":{"orient":"right","values":[0.1,1,10,100],"labelExpr":"'10'+['⁻²','⁻¹','⁰','¹','²','³','⁴','⁵'][round(log(datum.value)/LN10)+2]","offset":-85.8}}},
"layer":[{"mark":{"type":"line","strokeWidth":1.6,"color":"#f04545"},"encoding":{}},{"mark":{"type":"point","shape":"diamond","filled":true,"size":40,"opacity":1,"color":"#f04545"},"encoding":{}}]}
]},
{"width":424.6,"height":437.5,"data":{"name":"pt"},"transform":[{"filter":"datum.p==='14'"}],
"encoding":{"x":{"field":"d","type":"quantitative","title":"Time(days)","scale":{"domain":[4,16],"range":[144.2,370.2]},"axis":{"values":[4,8,12,16],"offset":-102.5}}},
"resolve":{"scale":{"y":"independent"}},
"layer":[
{"encoding":{"y":{"field":"v","type":"quantitative","title":"Cytokine(pg/mL)","scale":{"type":"log","domain":[0.1,1000],"range":[335,162]},"axis":{"values":[0.1,1,10,100,1000],"labelExpr":"'10'+['⁻²','⁻¹','⁰','¹','²','³','⁴','⁵'][round(log(datum.value)/LN10)+2]","offset":-144.2}}},
"layer":[
{"transform":[{"filter":"datum.s!=='CAR-T(%)'"}],"mark":{"type":"line","strokeWidth":1.6},"encoding":{"color":{"field":"s","type":"nominal","scale":{"domain":["IL-6","IL-2R","IL-10","TNF-α","CAR-T(%)"],"range":["#22c322","#000000","#a52ee0","#1b1be3","#f04545"]},"legend":{"orient":"none","legendX":266.2,"legendY":44,"title":null,"padding":0,"rowPadding":5.75,"symbolSize":400,"labelOffset":9,"labelFontSize":11,"encode":{"symbols":{"update":{"shape":{"signal":"datum.value==='IL-2R'?'M-0.9,0H0.9M-0.32,-0.32H0.32V0.32H-0.32Z':datum.value==='IL-10'?'M-0.9,0H-0.55M0.55,0H0.9M0,-0.4L0.38,0.27H-0.38Z':datum.value==='TNF-α'?'M-0.9,0H0.9M0,0.4L0.38,-0.27H-0.38Z':datum.value==='CAR-T(%)'?'M-0.9,0H0.9M0,-0.34L0.28,0L0,0.34L-0.28,0Z':'M-0.9,0H-0.55M0.55,0H0.9M0.34,0L0.24,0.24L0,0.34L-0.24,0.24L-0.34,0L-0.24,-0.24L0,-0.34L0.24,-0.24Z'"},"fill":{"signal":"datum.value==='IL-6'?'#22c322':datum.value==='IL-2R'?'#000000':datum.value==='IL-10'?'#a52ee0':datum.value==='TNF-α'?'#1b1be3':datum.value==='CAR-T(%)'?'#f04545':'#ffffff'"},"stroke":{"signal":"datum.value==='IL-6'?'#22c322':datum.value==='IL-2R'?'#000000':datum.value==='IL-10'?'#a52ee0':datum.value==='TNF-α'?'#1b1be3':datum.value==='CAR-T(%)'?'#f04545':'#a6a6a6'"},"strokeWidth":{"value":1.5},"size":{"value":400},"opacity":{"value":1}},"shape":{"value":{"expr":"datum.value==='IL-2R'?'M-0.9,0H0.9M-0.32,-0.32H0.32V0.32H-0.32Z':datum.value==='IL-10'?'M-0.9,0H-0.55M0.55,0H0.9M0,-0.4L0.38,0.27H-0.38Z':datum.value==='TNF-α'?'M-0.9,0H0.9M0,0.4L0.38,-0.27H-0.38Z':datum.value==='CAR-T(%)'?'M-0.9,0H0.9M0,-0.34L0.28,0L0,0.34L-0.28,0Z':'M-0.9,0H-0.55M0.55,0H0.9M0.34,0L0.24,0.24L0,0.34L-0.24,0.24L-0.34,0L-0.24,-0.24L0,-0.34L0.24,-0.24Z'"}},"fill":{"value":{"expr":"datum.value==='IL-6'?'#22c322':datum.value==='IL-2R'?'#000000':datum.value==='IL-10'?'#a52ee0':datum.value==='TNF-α'?'#1b1be3':datum.value==='CAR-T(%)'?'#f04545':'#ffffff'"}},"stroke":{"value":{"expr":"datum.value==='IL-6'?'#22c322':datum.value==='IL-2R'?'#000000':datum.value==='IL-10'?'#a52ee0':datum.value==='TNF-α'?'#1b1be3':datum.value==='CAR-T(%)'?'#f04545':'#a6a6a6'"}},"strokeWidth":{"value":1.5},"size":{"value":400},"opacity":{"value":1}}}}},"strokeDash":{"field":"s","type":"nominal","scale":{"domain":["IL-6","IL-2R","IL-10","TNF-α","CAR-T(%)","IFN-γ"],"range":[[5,3],[1,0],[5,3],[1,0],[1,0],[5,3]]},"legend":null}}},
{"transform":[{"filter":"datum.s!=='CAR-T(%)'"}],"mark":{"type":"point","filled":true,"size":55,"opacity":1,"strokeWidth":1.3},"encoding":{"shape":{"field":"s","type":"nominal","scale":{"domain":["IL-6","IL-2R","IL-10","TNF-α","CAR-T(%)","IFN-γ"],"range":["circle","square","triangle-up","triangle-down","diamond","circle"]},"legend":null},"fill":{"field":"s","type":"nominal","scale":{"domain":["IL-6","IL-2R","IL-10","TNF-α","CAR-T(%)","IFN-γ"],"range":["#22c322","#000000","#a52ee0","#1b1be3","#f04545","#ffffff"]},"legend":null},"stroke":{"field":"s","type":"nominal","scale":{"domain":["IL-6","IL-2R","IL-10","TNF-α","CAR-T(%)","IFN-γ"],"range":["#22c322","#000000","#a52ee0","#1b1be3","#f04545","#a6a6a6"]},"legend":null}}},
{"data":{"name":"note"},"transform":[{"filter":"datum.p==='14'&&datum.k==='title'"}],"mark":{"type":"text","font":"Liberation Serif","fontWeight":"bold","fontSize":16,"baseline":"middle"},"encoding":{"text":{"field":"t","type":"nominal"}}},
{"data":{"name":"note"},"transform":[{"filter":"datum.p==='14'&&datum.k==='dose'"}],"mark":{"type":"text","font":"Liberation Serif, Noto Sans CJK SC","fontSize":14,"baseline":"middle"},"encoding":{"text":{"field":"t","type":"nominal"}}},
{"data":{"name":"note"},"transform":[{"filter":"datum.p==='14'&&datum.k==='arrow'"}],"mark":{"type":"rule","strokeWidth":1.6,"color":"#000"},"encoding":{"y2":{"field":"v2"}}},
{"data":{"name":"note"},"transform":[{"filter":"datum.p==='14'&&datum.k==='arrow'"}],"mark":{"type":"point","shape":"M-0.9,-2L0.9,-2L0,0Z","filled":true,"color":"#000","size":100,"opacity":1},"encoding":{}}
]},
{"transform":[{"filter":"datum.s==='CAR-T(%)'"}],"encoding":{"y":{"field":"v","type":"quantitative","title":"CAR-T(%)","scale":{"type":"log","domain":[0.1,100],"range":[335,162]},"axis":{"orient":"right","values":[0.1,1,10,100],"labelExpr":"'10'+['⁻²','⁻¹','⁰','¹','²','³','⁴','⁵'][round(log(datum.value)/LN10)+2]","offset":-54.4}}},
"layer":[{"mark":{"type":"line","strokeWidth":1.6,"color":"#f04545"},"encoding":{}},{"mark":{"type":"point","shape":"diamond","filled":true,"size":40,"opacity":1,"color":"#f04545"},"encoding":{}}]}
]},
{"width":424.6,"height":437.5,"data":{"name":"pt"},"transform":[{"filter":"datum.p==='15'"}],
"encoding":{"x":{"field":"d","type":"quantitative","title":"Time(days)","scale":{"domain":[4,16],"range":[138.6,364.6]},"axis":{"values":[4,8,12,16],"offset":-87.5}}},
"resolve":{"scale":{"y":"independent"}},
"layer":[
{"encoding":{"y":{"field":"v","type":"quantitative","title":"Cytokine(pg/mL)","scale":{"type":"log","domain":[0.1,10000],"range":[350,177]},"axis":{"values":[0.1,1,10,100,1000,10000],"labelExpr":"'10'+['⁻²','⁻¹','⁰','¹','²','³','⁴','⁵'][round(log(datum.value)/LN10)+2]","offset":-138.6}}},
"layer":[
{"transform":[{"filter":"datum.s!=='CAR-T(%)'"}],"mark":{"type":"line","strokeWidth":1.6},"encoding":{"color":{"field":"s","type":"nominal","scale":{"domain":["IL-6","IL-2R","IL-10","TNF-α","IFN-γ","CAR-T(%)"],"range":["#22c322","#000000","#a52ee0","#1b1be3","#a6a6a6","#f04545"]},"legend":{"orient":"none","legendX":261.6,"legendY":36,"title":null,"padding":0,"rowPadding":4.2,"symbolSize":400,"labelOffset":9,"labelFontSize":11,"encode":{"symbols":{"update":{"shape":{"signal":"datum.value==='IL-2R'?'M-0.9,0H0.9M-0.32,-0.32H0.32V0.32H-0.32Z':datum.value==='IL-10'?'M-0.9,0H-0.55M0.55,0H0.9M0,-0.4L0.38,0.27H-0.38Z':datum.value==='TNF-α'?'M-0.9,0H0.9M0,0.4L0.38,-0.27H-0.38Z':datum.value==='CAR-T(%)'?'M-0.9,0H0.9M0,-0.34L0.28,0L0,0.34L-0.28,0Z':'M-0.9,0H-0.55M0.55,0H0.9M0.34,0L0.24,0.24L0,0.34L-0.24,0.24L-0.34,0L-0.24,-0.24L0,-0.34L0.24,-0.24Z'"},"fill":{"signal":"datum.value==='IL-6'?'#22c322':datum.value==='IL-2R'?'#000000':datum.value==='IL-10'?'#a52ee0':datum.value==='TNF-α'?'#1b1be3':datum.value==='CAR-T(%)'?'#f04545':'#ffffff'"},"stroke":{"signal":"datum.value==='IL-6'?'#22c322':datum.value==='IL-2R'?'#000000':datum.value==='IL-10'?'#a52ee0':datum.value==='TNF-α'?'#1b1be3':datum.value==='CAR-T(%)'?'#f04545':'#a6a6a6'"},"strokeWidth":{"value":1.5},"size":{"value":400},"opacity":{"value":1}},"shape":{"value":{"expr":"datum.value==='IL-2R'?'M-0.9,0H0.9M-0.32,-0.32H0.32V0.32H-0.32Z':datum.value==='IL-10'?'M-0.9,0H-0.55M0.55,0H0.9M0,-0.4L0.38,0.27H-0.38Z':datum.value==='TNF-α'?'M-0.9,0H0.9M0,0.4L0.38,-0.27H-0.38Z':datum.value==='CAR-T(%)'?'M-0.9,0H0.9M0,-0.34L0.28,0L0,0.34L-0.28,0Z':'M-0.9,0H-0.55M0.55,0H0.9M0.34,0L0.24,0.24L0,0.34L-0.24,0.24L-0.34,0L-0.24,-0.24L0,-0.34L0.24,-0.24Z'"}},"fill":{"value":{"expr":"datum.value==='IL-6'?'#22c322':datum.value==='IL-2R'?'#000000':datum.value==='IL-10'?'#a52ee0':datum.value==='TNF-α'?'#1b1be3':datum.value==='CAR-T(%)'?'#f04545':'#ffffff'"}},"stroke":{"value":{"expr":"datum.value==='IL-6'?'#22c322':datum.value==='IL-2R'?'#000000':datum.value==='IL-10'?'#a52ee0':datum.value==='TNF-α'?'#1b1be3':datum.value==='CAR-T(%)'?'#f04545':'#a6a6a6'"}},"strokeWidth":{"value":1.5},"size":{"value":400},"opacity":{"value":1}}}}},"strokeDash":{"field":"s","type":"nominal","scale":{"domain":["IL-6","IL-2R","IL-10","TNF-α","CAR-T(%)","IFN-γ"],"range":[[5,3],[1,0],[5,3],[1,0],[1,0],[5,3]]},"legend":null}}},
{"transform":[{"filter":"datum.s!=='CAR-T(%)'"}],"mark":{"type":"point","filled":true,"size":55,"opacity":1,"strokeWidth":1.3},"encoding":{"shape":{"field":"s","type":"nominal","scale":{"domain":["IL-6","IL-2R","IL-10","TNF-α","CAR-T(%)","IFN-γ"],"range":["circle","square","triangle-up","triangle-down","diamond","circle"]},"legend":null},"fill":{"field":"s","type":"nominal","scale":{"domain":["IL-6","IL-2R","IL-10","TNF-α","CAR-T(%)","IFN-γ"],"range":["#22c322","#000000","#a52ee0","#1b1be3","#f04545","#ffffff"]},"legend":null},"stroke":{"field":"s","type":"nominal","scale":{"domain":["IL-6","IL-2R","IL-10","TNF-α","CAR-T(%)","IFN-γ"],"range":["#22c322","#000000","#a52ee0","#1b1be3","#f04545","#a6a6a6"]},"legend":null}}},
{"data":{"name":"note"},"transform":[{"filter":"datum.p==='15'&&datum.k==='title'"}],"mark":{"type":"text","font":"Liberation Serif","fontWeight":"bold","fontSize":16,"baseline":"middle"},"encoding":{"text":{"field":"t","type":"nominal"}}},
{"data":{"name":"note"},"transform":[{"filter":"datum.p==='15'&&datum.k==='dose'"}],"mark":{"type":"text","font":"Liberation Serif, Noto Sans CJK SC","fontSize":14,"baseline":"middle"},"encoding":{"text":{"field":"t","type":"nominal"}}},
{"data":{"name":"note"},"transform":[{"filter":"datum.p==='15'&&datum.k==='arrow'"}],"mark":{"type":"rule","strokeWidth":1.6,"color":"#000"},"encoding":{"y2":{"field":"v2"}}},
{"data":{"name":"note"},"transform":[{"filter":"datum.p==='15'&&datum.k==='arrow'"}],"mark":{"type":"point","shape":"M-0.9,-2L0.9,-2L0,0Z","filled":true,"color":"#000","size":100,"opacity":1},"encoding":{}}
]},
{"transform":[{"filter":"datum.s==='CAR-T(%)'"}],"encoding":{"y":{"field":"v","type":"quantitative","title":"CAR-T(%)","scale":{"type":"log","domain":[0.1,100],"range":[350,177]},"axis":{"orient":"right","values":[0.1,1,10,100],"labelExpr":"'10'+['⁻²','⁻¹','⁰','¹','²','³','⁴','⁵'][round(log(datum.value)/LN10)+2]","offset":-60,"titlePadding":5}}},
"layer":[{"mark":{"type":"line","strokeWidth":1.6,"color":"#f04545"},"encoding":{}},{"mark":{"type":"point","shape":"diamond","filled":true,"size":40,"opacity":1,"color":"#f04545"},"encoding":{}}]}
]},
{"width":424.6,"height":437.5,"data":{"name":"pt"},"transform":[{"filter":"datum.p==='16'"}],
"encoding":{"x":{"field":"d","type":"quantitative","title":"Time(days)","scale":{"domain":[4,16],"range":[84,310]},"axis":{"values":[4,8,12,16],"offset":-68}}},
"resolve":{"scale":{"y":"independent"}},
"layer":[
{"encoding":{"y":{"field":"v","type":"quantitative","title":"Cytokine(pg/mL)","scale":{"type":"log","domain":[1,10000],"range":[369.5,196.5]},"axis":{"values":[1,10,100,1000,10000],"labelExpr":"'10'+['⁻²','⁻¹','⁰','¹','²','³','⁴','⁵'][round(log(datum.value)/LN10)+2]","offset":-84}}},
"layer":[
{"transform":[{"filter":"datum.s!=='CAR-T(%)'"}],"mark":{"type":"line","strokeWidth":1.6},"encoding":{"color":{"field":"s","type":"nominal","scale":{"domain":["IL-6","IL-2R","IL-10","TNF-α","CAR-T(%)"],"range":["#22c322","#000000","#a52ee0","#1b1be3","#f04545"]},"legend":{"orient":"none","legendX":206,"legendY":54.5,"title":null,"padding":0,"rowPadding":5.75,"symbolSize":400,"labelOffset":9,"labelFontSize":11,"encode":{"symbols":{"update":{"shape":{"signal":"datum.value==='IL-2R'?'M-0.9,0H0.9M-0.32,-0.32H0.32V0.32H-0.32Z':datum.value==='IL-10'?'M-0.9,0H-0.55M0.55,0H0.9M0,-0.4L0.38,0.27H-0.38Z':datum.value==='TNF-α'?'M-0.9,0H0.9M0,0.4L0.38,-0.27H-0.38Z':datum.value==='CAR-T(%)'?'M-0.9,0H0.9M0,-0.34L0.28,0L0,0.34L-0.28,0Z':'M-0.9,0H-0.55M0.55,0H0.9M0.34,0L0.24,0.24L0,0.34L-0.24,0.24L-0.34,0L-0.24,-0.24L0,-0.34L0.24,-0.24Z'"},"fill":{"signal":"datum.value==='IL-6'?'#22c322':datum.value==='IL-2R'?'#000000':datum.value==='IL-10'?'#a52ee0':datum.value==='TNF-α'?'#1b1be3':datum.value==='CAR-T(%)'?'#f04545':'#ffffff'"},"stroke":{"signal":"datum.value==='IL-6'?'#22c322':datum.value==='IL-2R'?'#000000':datum.value==='IL-10'?'#a52ee0':datum.value==='TNF-α'?'#1b1be3':datum.value==='CAR-T(%)'?'#f04545':'#a6a6a6'"},"strokeWidth":{"value":1.5},"size":{"value":400},"opacity":{"value":1}},"shape":{"value":{"expr":"datum.value==='IL-2R'?'M-0.9,0H0.9M-0.32,-0.32H0.32V0.32H-0.32Z':datum.value==='IL-10'?'M-0.9,0H-0.55M0.55,0H0.9M0,-0.4L0.38,0.27H-0.38Z':datum.value==='TNF-α'?'M-0.9,0H0.9M0,0.4L0.38,-0.27H-0.38Z':datum.value==='CAR-T(%)'?'M-0.9,0H0.9M0,-0.34L0.28,0L0,0.34L-0.28,0Z':'M-0.9,0H-0.55M0.55,0H0.9M0.34,0L0.24,0.24L0,0.34L-0.24,0.24L-0.34,0L-0.24,-0.24L0,-0.34L0.24,-0.24Z'"}},"fill":{"value":{"expr":"datum.value==='IL-6'?'#22c322':datum.value==='IL-2R'?'#000000':datum.value==='IL-10'?'#a52ee0':datum.value==='TNF-α'?'#1b1be3':datum.value==='CAR-T(%)'?'#f04545':'#ffffff'"}},"stroke":{"value":{"expr":"datum.value==='IL-6'?'#22c322':datum.value==='IL-2R'?'#000000':datum.value==='IL-10'?'#a52ee0':datum.value==='TNF-α'?'#1b1be3':datum.value==='CAR-T(%)'?'#f04545':'#a6a6a6'"}},"strokeWidth":{"value":1.5},"size":{"value":400},"opacity":{"value":1}}}}},"strokeDash":{"field":"s","type":"nominal","scale":{"domain":["IL-6","IL-2R","IL-10","TNF-α","CAR-T(%)","IFN-γ"],"range":[[5,3],[1,0],[5,3],[1,0],[1,0],[5,3]]},"legend":null}}},
{"transform":[{"filter":"datum.s!=='CAR-T(%)'"}],"mark":{"type":"point","filled":true,"size":55,"opacity":1,"strokeWidth":1.3},"encoding":{"shape":{"field":"s","type":"nominal","scale":{"domain":["IL-6","IL-2R","IL-10","TNF-α","CAR-T(%)","IFN-γ"],"range":["circle","square","triangle-up","triangle-down","diamond","circle"]},"legend":null},"fill":{"field":"s","type":"nominal","scale":{"domain":["IL-6","IL-2R","IL-10","TNF-α","CAR-T(%)","IFN-γ"],"range":["#22c322","#000000","#a52ee0","#1b1be3","#f04545","#ffffff"]},"legend":null},"stroke":{"field":"s","type":"nominal","scale":{"domain":["IL-6","IL-2R","IL-10","TNF-α","CAR-T(%)","IFN-γ"],"range":["#22c322","#000000","#a52ee0","#1b1be3","#f04545","#a6a6a6"]},"legend":null}}},
{"data":{"name":"note"},"transform":[{"filter":"datum.p==='16'&&datum.k==='title'"}],"mark":{"type":"text","font":"Liberation Serif","fontWeight":"bold","fontSize":16,"baseline":"middle"},"encoding":{"text":{"field":"t","type":"nominal"}}},
{"data":{"name":"note"},"transform":[{"filter":"datum.p==='16'&&datum.k==='dose'"}],"mark":{"type":"text","font":"Liberation Serif, Noto Sans CJK SC","fontSize":14,"baseline":"middle"},"encoding":{"text":{"field":"t","type":"nominal"}}},
{"data":{"name":"note"},"transform":[{"filter":"datum.p==='16'&&datum.k==='arrow'"}],"mark":{"type":"rule","strokeWidth":1.6,"color":"#000"},"encoding":{"y2":{"field":"v2"}}},
{"data":{"name":"note"},"transform":[{"filter":"datum.p==='16'&&datum.k==='arrow'"}],"mark":{"type":"point","shape":"M-0.9,-2L0.9,-2L0,0Z","filled":true,"color":"#000","size":100,"opacity":1},"encoding":{}}
]},
{"transform":[{"filter":"datum.s==='CAR-T(%)'"}],"encoding":{"y":{"field":"v","type":"quantitative","title":"CAR-T(%)","scale":{"type":"log","domain":[0.1,100],"range":[369.5,196.5]},"axis":{"orient":"right","values":[0.1,1,10,100],"labelExpr":"'10'+['⁻²','⁻¹','⁰','¹','²','³','⁴','⁵'][round(log(datum.value)/LN10)+2]","offset":-114.6}}},
"layer":[{"mark":{"type":"line","strokeWidth":1.6,"color":"#f04545"},"encoding":{}},{"mark":{"type":"point","shape":"diamond","filled":true,"size":40,"opacity":1,"color":"#f04545"},"encoding":{}}]}
]},
{"width":424.6,"height":437.5,"data":{"name":"pt"},"transform":[{"filter":"datum.p==='17'"}],
"encoding":{"x":{"field":"d","type":"quantitative","title":"Time(days)","scale":{"domain":[4,16],"range":[94.4,320.4]},"axis":{"values":[4,8,12,16],"offset":-59}}},
"resolve":{"scale":{"y":"independent"}},
"layer":[
{"encoding":{"y":{"field":"v","type":"quantitative","title":"Cytokine(pg/mL)","scale":{"type":"log","domain":[0.1,10000],"range":[378.5,204.5]},"axis":{"values":[0.1,1,10,100,1000,10000],"labelExpr":"'10'+['⁻²','⁻¹','⁰','¹','²','³','⁴','⁵'][round(log(datum.value)/LN10)+2]","offset":-94.4}}},
"layer":[
{"transform":[{"filter":"datum.s!=='CAR-T(%)'"}],"mark":{"type":"line","strokeWidth":1.6},"encoding":{"color":{"field":"s","type":"nominal","scale":{"domain":["IL-6","IL-2R","IL-10","TNF-α","CAR-T(%)","IFN-γ"],"range":["#22c322","#000000","#a52ee0","#1b1be3","#f04545","#a6a6a6"]},"legend":{"orient":"none","legendX":217.4,"legendY":62.5,"title":null,"padding":0,"rowPadding":5,"symbolSize":400,"labelOffset":9,"labelFontSize":11,"encode":{"symbols":{"update":{"shape":{"signal":"datum.value==='IL-2R'?'M-0.9,0H0.9M-0.32,-0.32H0.32V0.32H-0.32Z':datum.value==='IL-10'?'M-0.9,0H-0.55M0.55,0H0.9M0,-0.4L0.38,0.27H-0.38Z':datum.value==='TNF-α'?'M-0.9,0H0.9M0,0.4L0.38,-0.27H-0.38Z':datum.value==='CAR-T(%)'?'M-0.9,0H0.9M0,-0.34L0.28,0L0,0.34L-0.28,0Z':'M-0.9,0H-0.55M0.55,0H0.9M0.34,0L0.24,0.24L0,0.34L-0.24,0.24L-0.34,0L-0.24,-0.24L0,-0.34L0.24,-0.24Z'"},"fill":{"signal":"datum.value==='IL-6'?'#22c322':datum.value==='IL-2R'?'#000000':datum.value==='IL-10'?'#a52ee0':datum.value==='TNF-α'?'#1b1be3':datum.value==='CAR-T(%)'?'#f04545':'#ffffff'"},"stroke":{"signal":"datum.value==='IL-6'?'#22c322':datum.value==='IL-2R'?'#000000':datum.value==='IL-10'?'#a52ee0':datum.value==='TNF-α'?'#1b1be3':datum.value==='CAR-T(%)'?'#f04545':'#a6a6a6'"},"strokeWidth":{"value":1.5},"size":{"value":400},"opacity":{"value":1}},"shape":{"value":{"expr":"datum.value==='IL-2R'?'M-0.9,0H0.9M-0.32,-0.32H0.32V0.32H-0.32Z':datum.value==='IL-10'?'M-0.9,0H-0.55M0.55,0H0.9M0,-0.4L0.38,0.27H-0.38Z':datum.value==='TNF-α'?'M-0.9,0H0.9M0,0.4L0.38,-0.27H-0.38Z':datum.value==='CAR-T(%)'?'M-0.9,0H0.9M0,-0.34L0.28,0L0,0.34L-0.28,0Z':'M-0.9,0H-0.55M0.55,0H0.9M0.34,0L0.24,0.24L0,0.34L-0.24,0.24L-0.34,0L-0.24,-0.24L0,-0.34L0.24,-0.24Z'"}},"fill":{"value":{"expr":"datum.value==='IL-6'?'#22c322':datum.value==='IL-2R'?'#000000':datum.value==='IL-10'?'#a52ee0':datum.value==='TNF-α'?'#1b1be3':datum.value==='CAR-T(%)'?'#f04545':'#ffffff'"}},"stroke":{"value":{"expr":"datum.value==='IL-6'?'#22c322':datum.value==='IL-2R'?'#000000':datum.value==='IL-10'?'#a52ee0':datum.value==='TNF-α'?'#1b1be3':datum.value==='CAR-T(%)'?'#f04545':'#a6a6a6'"}},"strokeWidth":{"value":1.5},"size":{"value":400},"opacity":{"value":1}}}}},"strokeDash":{"field":"s","type":"nominal","scale":{"domain":["IL-6","IL-2R","IL-10","TNF-α","CAR-T(%)","IFN-γ"],"range":[[5,3],[1,0],[5,3],[1,0],[1,0],[5,3]]},"legend":null}}},
{"transform":[{"filter":"datum.s!=='CAR-T(%)'"}],"mark":{"type":"point","filled":true,"size":55,"opacity":1,"strokeWidth":1.3},"encoding":{"shape":{"field":"s","type":"nominal","scale":{"domain":["IL-6","IL-2R","IL-10","TNF-α","CAR-T(%)","IFN-γ"],"range":["circle","square","triangle-up","triangle-down","diamond","circle"]},"legend":null},"fill":{"field":"s","type":"nominal","scale":{"domain":["IL-6","IL-2R","IL-10","TNF-α","CAR-T(%)","IFN-γ"],"range":["#22c322","#000000","#a52ee0","#1b1be3","#f04545","#ffffff"]},"legend":null},"stroke":{"field":"s","type":"nominal","scale":{"domain":["IL-6","IL-2R","IL-10","TNF-α","CAR-T(%)","IFN-γ"],"range":["#22c322","#000000","#a52ee0","#1b1be3","#f04545","#a6a6a6"]},"legend":null}}},
{"data":{"name":"note"},"transform":[{"filter":"datum.p==='17'&&datum.k==='title'"}],"mark":{"type":"text","font":"Liberation Serif","fontWeight":"bold","fontSize":16,"baseline":"middle"},"encoding":{"text":{"field":"t","type":"nominal"}}},
{"data":{"name":"note"},"transform":[{"filter":"datum.p==='17'&&datum.k==='dose'"}],"mark":{"type":"text","font":"Liberation Serif, Noto Sans CJK SC","fontSize":14,"baseline":"middle"},"encoding":{"text":{"field":"t","type":"nominal"}}},
{"data":{"name":"note"},"transform":[{"filter":"datum.p==='17'&&datum.k==='arrow'"}],"mark":{"type":"rule","strokeWidth":1.6,"color":"#000"},"encoding":{"y2":{"field":"v2"}}},
{"data":{"name":"note"},"transform":[{"filter":"datum.p==='17'&&datum.k==='arrow'"}],"mark":{"type":"point","shape":"M-0.9,-2L0.9,-2L0,0Z","filled":true,"color":"#000","size":100,"opacity":1},"encoding":{}}
]},
{"transform":[{"filter":"datum.s==='CAR-T(%)'"}],"encoding":{"y":{"field":"v","type":"quantitative","title":"CAR-T(%)","scale":{"type":"log","domain":[0.1,100],"range":[378.5,204.5]},"axis":{"orient":"right","values":[0.1,1,10,100],"labelExpr":"'10'+['⁻²','⁻¹','⁰','¹','²','³','⁴','⁵'][round(log(datum.value)/LN10)+2]","offset":-104.2}}},
"layer":[{"mark":{"type":"line","strokeWidth":1.6,"color":"#f04545"},"encoding":{}},{"mark":{"type":"point","shape":"diamond","filled":true,"size":40,"opacity":1,"color":"#f04545"},"encoding":{}}]}
]},
{"width":424.6,"height":437.5,"data":{"name":"sum"},"transform":[{"filter":"datum.p==='B'"}],
"encoding":{"x":{"field":"d","type":"ordinal","title":"Time(days)","scale":{"type":"point","domain":["0","4","7","14","16"],"range":[84.8,293.8],"padding":0},"axis":{"labelAngle":0,"offset":-54}}},
"resolve":{"scale":{"y":"independent"}},
"layer":[
{"encoding":{"y":{"field":"v","type":"quantitative","title":"IL-2R（ pg/ml)","scale":{"domain":[0,5],"range":[383.5,175.5]},"axis":{"values":[0,2.5,5],"labelExpr":"datum.value===2.5?'':datum.label","offset":-84.8}}},
"layer":[
{"transform":[{"filter":"datum.s==='IL-2R'"}],"mark":{"type":"errorbar","color":"#000","thickness":1.2,"ticks":{"size":11,"thickness":1.2}},"encoding":{"y":{"field":"lo","type":"quantitative","title":"IL-2R（ pg/ml)","scale":{"domain":[0,5],"range":[383.5,175.5]}},"y2":{"field":"hi"}}},
{"transform":[{"filter":"datum.s==='IL-2R'"}],"mark":{"type":"line","strokeWidth":1.2},"encoding":{"order":{"field":"n","type":"quantitative"},"color":{"field":"s","type":"nominal","scale":{"domain":["IL-2R","TNF"],"range":["#000000","#1b1be3"]},"legend":{"orient":"none","legendX":341.8,"legendY":179,"title":null,"padding":0,"rowPadding":6,"symbolSize":484,"labelOffset":13,"labelFontSize":17,"labelColor":"#000","encode":{"symbols":{"update":{"shape":{"signal":"datum.value==='TNF'?'M-1,0H1M0,0.42L0.4,-0.3H-0.4Z':'M-1,0H1M-0.36,-0.36H0.36V0.36H-0.36Z'"},"fill":{"signal":"datum.value==='TNF'?'#1b1be3':'#000000'"},"stroke":{"signal":"datum.value==='TNF'?'#1b1be3':'#000000'"},"strokeWidth":{"value":1.3},"size":{"value":484},"opacity":{"value":1}},"shape":{"value":{"expr":"datum.value==='TNF'?'M-1,0H1M0,0.42L0.4,-0.3H-0.4Z':'M-1,0H1M-0.36,-0.36H0.36V0.36H-0.36Z'"}},"fill":{"value":{"expr":"datum.value==='TNF'?'#1b1be3':'#000000'"}},"stroke":{"value":{"expr":"datum.value==='TNF'?'#1b1be3':'#000000'"}},"strokeWidth":{"value":1.3},"size":{"value":484},"opacity":{"value":1}}}}}}},
{"transform":[{"filter":"datum.s==='IL-2R'"}],"mark":{"type":"point","shape":"square","filled":true,"size":80,"opacity":1,"color":"#000"},"encoding":{}},
{"data":{"name":"note"},"transform":[{"filter":"datum.p==='B'"}],"mark":{"type":"text","font":"Liberation Serif","fontSize":17,"baseline":"middle","dx":-32},"encoding":{"text":{"field":"t","type":"nominal"}}}
]},
{"transform":[{"filter":"datum.s==='TNF'"}],"encoding":{"y":{"field":"v","type":"quantitative","title":"TNF(pg/ml)","scale":{"domain":[0,50],"range":[383.5,175.5]},"axis":{"orient":"right","values":[0,25,50],"labelExpr":"datum.value===25?'':datum.label","offset":-130.8}}},
"layer":[
{"mark":{"type":"errorbar","color":"#1b1be3","thickness":1.2,"ticks":{"size":11,"thickness":1.2}},"encoding":{"y":{"field":"lo","type":"quantitative","title":"TNF(pg/ml)","scale":{"domain":[0,50],"range":[383.5,175.5]}},"y2":{"field":"hi"}}},
{"mark":{"type":"line","strokeWidth":1.2,"color":"#1b1be3"},"encoding":{"order":{"field":"n","type":"quantitative"}}},
{"mark":{"type":"point","shape":"triangle-down","filled":true,"size":80,"opacity":1,"color":"#1b1be3"},"encoding":{}}
]}
]},
{"width":424.6,"height":437.5,"data":{"name":"sum"},"transform":[{"filter":"datum.p==='C'"}],
"encoding":{"x":{"field":"d","type":"ordinal","title":"Time(days)","scale":{"type":"point","domain":["0","4","7","14","16"],"range":[161.2,355.2],"padding":0},"axis":{"labelAngle":0,"offset":-54}}},
"resolve":{"scale":{"y":"independent"}},
"layer":[
{"encoding":{"y":{"field":"v","type":"quantitative","title":"IL-6(pg/ml)","scale":{"domain":[0,2000],"range":[383.5,190.5]},"axis":{"values":[0,250,500,750,1000,1250,1500,1750,2000],"format":"d","labelExpr":"datum.value%500===0?datum.label:''","offset":-161.2}}},
"layer":[
{"transform":[{"filter":"datum.s==='IL-6'"}],"mark":{"type":"errorbar","color":"#2bd62b","thickness":1.2,"ticks":{"size":11,"thickness":1.2}},"encoding":{"y":{"field":"lo","type":"quantitative","title":"IL-6(pg/ml)","scale":{"domain":[0,2000],"range":[383.5,190.5]}},"y2":{"field":"hi"}}},
{"transform":[{"filter":"datum.s==='IL-6'"}],"mark":{"type":"line","strokeWidth":1.2,"strokeDash":[2,2]},"encoding":{"order":{"field":"n","type":"quantitative"},"color":{"field":"s","type":"nominal","scale":{"domain":["IL-6","IL-10"],"range":["#2bd62b","#b468e0"]},"legend":{"orient":"none","legendX":427.2,"legendY":193,"title":null,"padding":0,"rowPadding":5,"symbolSize":484,"labelOffset":12,"labelFontSize":17,"labelColor":"#000","encode":{"symbols":{"update":{"shape":{"signal":"datum.value==='IL-10'?'M-1,0H-0.82M-0.66,0H-0.48M0.48,0H0.66M0.82,0H1M0,-0.42L0.4,0.3H-0.4Z':'M-1,0H-0.82M-0.66,0H-0.48M0.48,0H0.66M0.82,0H1M0.38,0L0.27,0.27L0,0.38L-0.27,0.27L-0.38,0L-0.27,-0.27L0,-0.38L0.27,-0.27Z'"},"fill":{"signal":"datum.value==='IL-10'?'#b468e0':'#2bd62b'"},"stroke":{"signal":"datum.value==='IL-10'?'#b468e0':'#2bd62b'"},"strokeWidth":{"value":1.3},"size":{"value":484},"opacity":{"value":1}},"shape":{"value":{"expr":"datum.value==='IL-10'?'M-1,0H-0.82M-0.66,0H-0.48M0.48,0H0.66M0.82,0H1M0,-0.42L0.4,0.3H-0.4Z':'M-1,0H-0.82M-0.66,0H-0.48M0.48,0H0.66M0.82,0H1M0.38,0L0.27,0.27L0,0.38L-0.27,0.27L-0.38,0L-0.27,-0.27L0,-0.38L0.27,-0.27Z'"}},"fill":{"value":{"expr":"datum.value==='IL-10'?'#b468e0':'#2bd62b'"}},"stroke":{"value":{"expr":"datum.value==='IL-10'?'#b468e0':'#2bd62b'"}},"strokeWidth":{"value":1.3},"size":{"value":484},"opacity":{"value":1}}}}}}},
{"transform":[{"filter":"datum.s==='IL-6'"}],"mark":{"type":"point","shape":"circle","filled":true,"size":80,"opacity":1,"color":"#2bd62b"},"encoding":{}},
{"data":{"name":"note"},"transform":[{"filter":"datum.p==='C'"}],"mark":{"type":"text","font":"Liberation Serif","fontSize":17,"baseline":"middle","dx":-57},"encoding":{"text":{"field":"t","type":"nominal"}}}
]},
{"transform":[{"filter":"datum.s==='IL-10'"}],"encoding":{"y":{"field":"v","type":"quantitative","title":"IL-10(pg/ml)","scale":{"domain":[0,500],"range":[383.5,190.5]},"axis":{"orient":"right","values":[0,100,200,300,400,500],"offset":-69.4}}},
"layer":[
{"mark":{"type":"errorbar","color":"#b468e0","thickness":1.2,"ticks":{"size":11,"thickness":1.2}},"encoding":{"y":{"field":"lo","type":"quantitative","title":"IL-10(pg/ml)","scale":{"domain":[0,500],"range":[383.5,190.5]}},"y2":{"field":"hi"}}},
{"mark":{"type":"line","strokeWidth":1.2,"strokeDash":[2,2],"color":"#b468e0"},"encoding":{"order":{"field":"n","type":"quantitative"}}},
{"mark":{"type":"point","shape":"triangle-up","filled":true,"size":80,"opacity":1,"color":"#b468e0"},"encoding":{}}
]}
]},
{"width":424.6,"height":437.5,"data":{"name":"sum"},"transform":[{"filter":"datum.p==='D'"}],
"encoding":{"x":{"field":"d","type":"ordinal","title":"Time(days)","scale":{"type":"point","domain":["0","4","7","14","28","30"],"range":[187.6,400.6],"padding":0},"axis":{"labelAngle":0,"offset":-67}},
"y":{"field":"v","type":"quantitative","title":"CAR-T(%)","scale":{"domain":[0,12],"range":[370.5,157.5]},"axis":{"values":[0,6,12],"offset":-187.6}}},
"layer":[
{"mark":{"type":"errorbar","color":"#f04545","thickness":1.2,"ticks":{"size":11,"thickness":1.2}},"encoding":{"y":{"field":"lo","type":"quantitative","title":"CAR-T(%)","scale":{"domain":[0,12],"range":[370.5,157.5]}},"y2":{"field":"hi"}}},
{"mark":{"type":"line","strokeWidth":1.2,"color":"#f04545"},"encoding":{"order":{"field":"n","type":"quantitative"}}},
{"mark":{"type":"point","shape":"diamond","filled":true,"size":60,"opacity":1,"color":"#f04545"},"encoding":{}},
{"data":{"name":"note"},"transform":[{"filter":"datum.p==='D'"}],"mark":{"type":"text","font":"Liberation Serif","fontSize":17,"baseline":"middle","dx":-43},"encoding":{"text":{"field":"t","type":"nominal"}}}
]}
],
"config":{
"view":{"stroke":null},
"font":"Liberation Serif",
"axis":{"grid":false,"domainColor":"#000","domainWidth":2,"tickColor":"#000","tickWidth":2,"tickSize":5,"labelColor":"#000","labelFont":"Liberation Sans","labelFontWeight":"bold","labelFontSize":14,"labelPadding":2,"labelFlush":false,"labelOverlap":false,"titleColor":"#000","titleFont":"Liberation Serif","titleFontWeight":"bold","titleFontSize":13},
"axisX":{"titleFontSize":14,"titlePadding":8,"labelPadding":5},
"axisLeft":{"titlePadding":13},
"axisRight":{"titlePadding":19},
"legend":{"labelFont":"Liberation Serif","labelColor":"#111","padding":0}
}
}
